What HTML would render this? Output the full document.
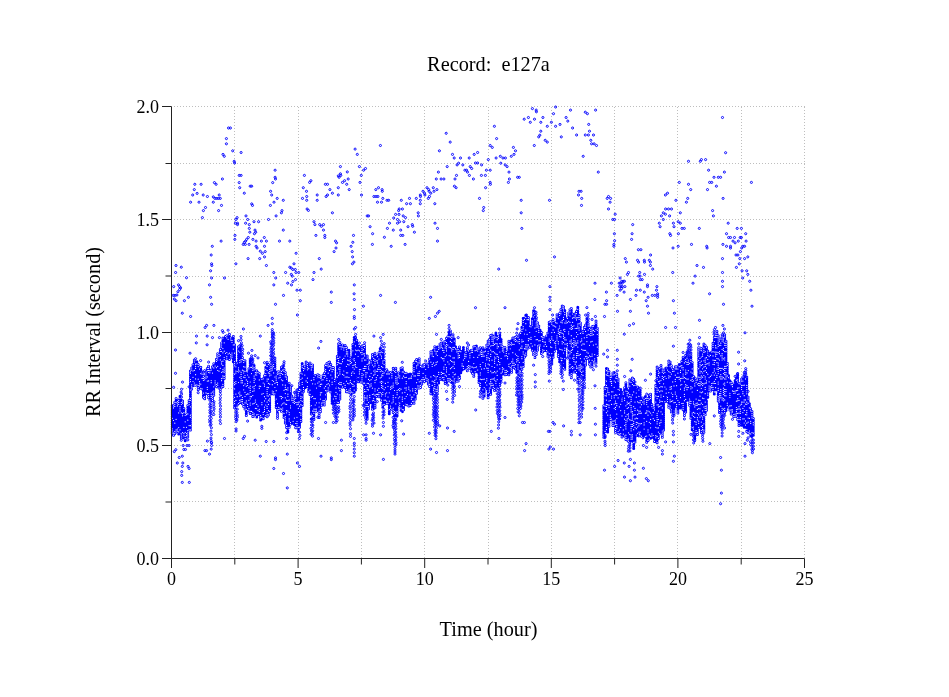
<!DOCTYPE html>
<html><head><meta charset="utf-8"><title>Record: e127a</title>
<style>html,body{margin:0;padding:0;background:#fff}body{width:949px;height:697px;overflow:hidden}</style>
</head><body>
<svg width="949" height="697" viewBox="0 0 949 697" style="display:block">
<rect width="949" height="697" fill="#fff"/>
<g stroke="#bebebe" stroke-width="1" stroke-dasharray="1 2" fill="none" shape-rendering="crispEdges"><path d="M234.8 106.5V558.5M298.1 106.5V558.5M361.4 106.5V558.5M424.7 106.5V558.5M488.5 106.5V558.5M551.3 106.5V558.5M614.6 106.5V558.5M677.9 106.5V558.5M741.2 106.5V558.5M804.5 106.5V558.5"/><path d="M171.5 501.5H804.5M171.5 445.5H804.5M171.5 388.5H804.5M171.5 332.5H804.5M171.5 276.5H804.5M171.5 219.5H804.5M171.5 163.5H804.5M171.5 106.5H804.5" stroke-dashoffset="1"/></g>
<path d="M172.2 405.7V433.1M173.5 405.8V435.2M174.8 402.2V433.8M176.1 398.4V432.1M177.4 401.7V431.2M178.7 400.3V433.9M180.0 396.2V429.8M181.3 400.3V438.2M182.6 401.1V432.7M183.9 408.5V438.0M185.2 415.5V440.7M186.5 414.7V435.7M187.8 405.5V437.0M189.1 400.4V429.8M190.4 371.1V430.0M191.7 368.0V389.1M193.0 364.7V387.8M194.3 359.9V385.1M195.6 364.2V385.2M196.9 361.7V384.8M198.2 364.5V389.7M199.5 369.1V385.9M200.8 367.3V388.3M202.1 372.1V389.0M203.4 376.3V397.4M204.7 377.7V398.8M206.0 371.9V393.0M207.3 368.5V393.7M208.6 366.2V397.7M209.9 370.7V400.2M211.2 370.1V397.5M212.5 366.8V400.4M213.8 363.7V397.3M215.1 364.0V385.0M216.4 359.3V386.6M217.7 353.7V385.2M219.0 354.4V388.1M220.3 349.4V391.5M221.6 342.9V387.0M222.9 338.1V386.5M224.2 338.6V378.6M225.5 336.5V353.3M226.8 335.7V358.9M228.1 337.2V356.2M229.4 334.3V359.6M230.7 337.9V356.9M232.0 340.4V357.2M233.3 336.5V361.8M234.6 344.8V407.9M235.9 366.8V402.6M237.2 363.1V405.1M238.5 346.8V403.5M239.8 345.8V402.6M241.1 359.7V401.8M242.4 357.6V403.9M243.7 360.4V406.7M245.0 360.8V409.2M246.3 373.6V415.7M247.6 375.0V410.8M248.9 368.8V410.8M250.2 358.9V413.5M251.5 365.2V411.4M252.8 366.1V416.6M254.1 365.6V416.1M255.4 372.7V416.8M256.7 370.8V417.1M258.0 372.5V414.5M259.3 373.6V411.4M260.6 380.0V420.0M261.9 379.5V417.4M263.2 378.8V418.8M264.5 375.7V411.5M265.8 367.2V415.6M267.1 362.2V416.9M268.4 364.5V415.0M269.7 369.5V411.6M271.0 366.6V396.0M272.3 365.8V393.1M273.6 364.5V394.0M274.9 358.1V393.9M276.2 376.0V407.6M277.5 372.1V416.3M278.8 371.7V411.6M280.1 373.2V408.9M281.4 367.2V411.4M282.7 366.0V410.1M284.0 369.3V417.7M285.3 372.6V423.1M286.6 377.1V427.6M287.9 385.8V432.0M289.2 383.2V429.4M290.5 386.9V424.8M291.8 396.0V425.4M293.1 398.2V421.4M294.4 399.2V424.5M295.7 392.0V427.7M297.0 390.0V429.9M298.3 389.5V431.6M299.6 383.1V427.2M300.9 373.2V423.6M302.2 363.5V405.5M303.5 368.5V389.5M304.8 366.7V387.8M306.1 362.0V385.2M307.4 363.5V386.6M308.7 368.7V391.9M310.0 362.9V394.4M311.3 365.7V416.1M312.6 364.9V415.4M313.9 377.6V419.7M315.2 375.6V411.3M316.5 379.7V411.2M317.8 374.7V412.5M319.1 375.5V417.6M320.4 384.4V411.7M321.7 380.0V407.3M323.0 375.5V404.9M324.3 373.4V405.0M325.6 365.4V399.1M326.9 363.6V393.0M328.2 362.7V390.1M329.5 362.0V385.1M330.8 364.6V392.0M332.1 367.5V403.2M333.4 367.5V401.1M334.7 379.4V404.7M336.0 388.2V398.8M337.3 356.2V404.5M338.6 343.8V402.6M339.9 342.4V399.2M341.2 346.9V384.8M342.5 344.9V387.0M343.8 347.9V383.7M345.1 345.5V387.6M346.4 347.6V391.8M347.7 351.8V391.8M349.0 350.2V392.2M350.3 357.2V393.0M351.6 362.7V396.3M352.9 344.5V394.9M354.2 337.6V392.3M355.5 337.4V389.9M356.8 340.2V375.9M358.1 346.0V381.8M359.4 346.6V376.0M360.7 350.6V382.1M362.0 346.2V382.0M363.3 345.4V383.3M364.6 345.4V400.0M365.9 355.9V406.4M367.2 356.0V419.1M368.5 366.8V408.9M369.8 370.1V397.5M371.1 360.7V404.8M372.4 354.6V411.3M373.7 358.4V408.9M375.0 353.2V409.9M376.3 360.8V396.6M377.6 356.6V394.4M378.9 352.7V396.9M380.2 348.5V392.7M381.5 351.9V402.3M382.8 350.5V409.3M384.1 360.3V404.4M385.4 370.8V400.3M386.7 369.7V403.4M388.0 371.8V403.3M389.3 373.9V413.9M390.6 372.5V408.3M391.9 373.6V409.4M393.2 368.3V412.4M394.5 371.6V415.8M395.8 368.2V414.5M397.1 375.8V415.7M398.4 372.8V398.0M399.7 375.9V405.4M401.0 368.2V412.3M402.3 367.7V413.9M403.6 372.0V409.9M404.9 373.4V398.6M406.2 373.2V404.8M407.5 377.5V404.8M408.8 374.5V406.0M410.1 374.0V405.6M411.4 376.1V403.5M412.7 374.1V401.5M414.0 363.3V403.3M415.3 361.2V399.1M416.6 359.6V393.2M417.9 362.8V388.0M419.2 358.7V388.2M420.5 366.4V387.5M421.8 367.1V384.0M423.1 365.0V379.7M424.4 364.6V381.5M425.7 367.4V377.9M427.0 363.9V380.8M428.3 365.1V384.1M429.6 359.1V388.5M430.9 351.7V393.7M432.2 351.8V393.9M433.5 350.3V390.3M434.8 346.7V388.7M436.1 351.8V391.8M437.4 347.1V391.2M438.7 347.2V385.0M440.0 343.9V379.7M441.3 343.0V374.5M442.6 348.2V379.8M443.9 341.9V379.8M445.2 341.6V383.6M446.5 338.3V382.4M447.8 336.7V380.9M449.1 332.5V380.9M450.4 330.9V381.4M451.7 336.2V384.5M453.0 334.8V381.1M454.3 339.0V383.2M455.6 346.8V374.1M456.9 349.8V381.3M458.2 349.5V381.1M459.5 346.9V378.4M460.8 351.7V374.8M462.1 351.2V370.2M463.4 347.5V368.6M464.7 354.1V370.9M466.0 352.5V369.3M467.3 347.7V370.9M468.6 350.9V367.8M469.9 353.6V368.4M471.2 350.2V371.3M472.5 350.2V373.4M473.8 346.8V376.3M475.1 346.5V371.7M476.4 345.9V366.9M477.7 349.0V372.2M479.0 348.9V382.5M480.3 347.7V387.6M481.6 350.2V394.3M482.9 347.8V398.3M484.2 349.8V396.0M485.5 351.2V389.1M486.8 345.1V385.1M488.1 341.0V397.8M489.4 339.7V392.3M490.7 335.5V394.4M492.0 335.0V387.5M493.3 336.9V387.4M494.6 336.0V390.7M495.9 332.9V383.4M497.2 337.6V388.1M498.5 336.2V388.8M499.8 333.1V385.6M501.1 339.6V379.6M502.4 346.7V374.1M503.7 347.9V371.1M505.0 347.5V374.9M506.3 351.4V374.6M507.6 352.4V371.3M508.9 341.2V374.9M510.2 344.6V367.7M511.5 340.8V372.3M512.8 338.0V365.4M514.1 338.0V367.5M515.4 337.3V368.9M516.7 336.6V374.4M518.0 337.6V369.2M519.3 339.4V371.0M520.6 333.4V371.2M521.9 327.2V369.2M523.2 318.3V366.7M524.5 319.3V357.1M525.8 315.3V355.2M527.1 317.5V349.0M528.4 317.6V344.9M529.7 326.2V347.3M531.0 326.8V343.6M532.3 318.8V350.3M533.6 310.7V356.9M534.9 315.5V357.5M536.2 322.9V354.5M537.5 322.8V350.1M538.8 326.1V345.1M540.1 330.2V344.9M541.4 332.5V353.5M542.7 337.2V354.0M544.0 337.8V350.5M545.3 342.2V350.7M546.6 335.9V350.6M547.9 333.1V356.3M549.2 322.2V353.8M550.5 321.7V357.4M551.8 322.1V364.2M553.1 319.4V357.3M554.4 326.1V351.4M555.7 322.7V348.0M557.0 314.8V348.5M558.3 318.6V356.5M559.6 313.4V363.8M560.9 309.6V358.0M562.2 306.0V358.6M563.5 306.8V367.8M564.8 310.4V369.3M566.1 321.0V346.3M567.4 318.4V345.7M568.7 312.9V357.0M570.0 309.7V376.9M571.3 308.4V377.8M572.6 314.0V368.6M573.9 317.4V372.0M575.2 313.8V370.6M576.5 311.5V372.5M577.8 307.2V382.9M579.1 315.3V378.3M580.4 322.9V373.4M581.7 338.8V374.6M583.0 331.3V375.5M584.3 327.3V379.9M585.6 325.1V365.1M586.9 318.5V358.5M588.2 323.8V357.5M589.5 328.5V364.3M590.8 329.3V367.2M592.1 326.7V366.7M593.4 326.2V364.0M594.7 327.3V363.1M596.0 321.1V363.1M597.3 328.2V357.6M603.8 405.7V437.3M605.1 387.3V431.4M606.4 368.6V429.5M607.7 369.0V432.1M609.0 371.6V426.2M610.3 377.4V419.4M611.6 377.1V419.1M612.9 372.9V425.4M614.2 372.6V425.2M615.5 373.8V430.6M616.8 374.2V428.9M618.1 379.0V433.6M619.4 390.1V434.3M620.7 389.6V433.7M622.0 399.1V437.0M623.3 392.1V434.1M624.6 387.7V436.1M625.9 382.7V439.5M627.2 391.6V440.0M628.5 388.7V441.3M629.8 379.8V442.8M631.1 382.5V439.3M632.4 378.1V441.2M633.7 379.3V448.7M635.0 385.3V442.0M636.3 393.0V435.1M637.6 387.1V437.5M638.9 390.1V432.2M640.2 388.1V432.3M641.5 400.5V438.3M642.8 397.9V437.9M644.1 399.7V437.5M645.4 396.4V436.4M646.7 398.2V442.4M648.0 398.4V440.5M649.3 395.0V439.1M650.6 394.2V440.4M651.9 404.5V436.0M653.2 408.2V437.7M654.5 407.8V441.4M655.8 385.3V437.8M657.1 367.1V442.8M658.4 371.2V438.5M659.7 368.6V433.8M661.0 365.6V434.9M662.3 370.1V439.4M663.6 373.3V430.0M664.9 372.3V401.8M666.2 368.0V395.3M667.5 370.1V401.7M668.8 361.1V409.4M670.1 362.0V408.2M671.4 365.7V414.0M672.7 369.3V409.2M674.0 371.2V415.4M675.3 366.8V404.7M676.6 366.8V406.7M677.9 369.0V413.2M679.2 364.6V404.6M680.5 366.1V408.2M681.8 361.5V403.6M683.1 357.2V409.7M684.4 362.9V415.4M685.7 355.3V412.1M687.0 358.2V402.3M688.3 358.0V395.8M689.6 361.2V405.4M690.9 353.1V418.2M692.2 362.6V431.9M693.5 376.6V429.1M694.8 383.8V440.5M696.1 380.2V432.8M697.4 379.9V434.5M698.7 347.7V427.6M700.0 347.9V425.7M701.3 348.6V432.7M702.6 354.1V429.7M703.9 344.0V432.3M705.2 345.4V416.8M706.5 347.2V410.2M707.8 351.1V399.4M709.1 356.6V390.3M710.4 353.3V391.1M711.7 352.0V387.8M713.0 343.3V389.5M714.3 337.3V394.0M715.6 335.2V391.9M716.9 331.2V392.1M718.2 335.8V400.9M719.5 339.0V412.5M720.8 339.0V408.4M722.1 334.8V410.5M723.4 335.7V411.4M724.7 334.8V412.6M726.0 341.2V410.6M727.3 363.3V405.3M728.6 375.5V407.1M729.9 380.7V410.2M731.2 382.6V414.2M732.5 384.6V412.0M733.8 387.2V416.7M735.1 380.5V416.2M736.4 378.1V416.0M737.7 373.5V419.7M739.0 383.6V425.7M740.3 384.0V419.8M741.6 379.0V425.2M742.9 376.9V425.3M744.2 372.6V429.3M745.5 378.9V429.3M746.8 377.0V431.6M748.1 397.0V432.8M749.4 403.7V433.1M750.7 408.7V438.1M752.0 411.5V436.7M753.3 418.5V437.4" stroke="#00f" stroke-width="3" stroke-linecap="round" stroke-dasharray="0 2.1" fill="none"/>
<path d="M172.2 418.3h0M172.2 428.8h0M172.2 430.9h0M172.2 433.0h0M173.5 405.8h0M173.5 407.9h0M173.5 420.5h0M173.5 433.1h0M173.5 435.2h0M174.8 402.2h0M174.8 404.3h0M174.8 406.4h0M174.8 423.2h0M174.8 431.6h0M174.8 433.7h0M176.1 398.4h0M176.1 402.6h0M176.1 419.4h0M176.1 429.9h0M176.1 432.0h0M177.4 401.7h0M177.4 403.8h0M177.4 405.9h0M177.4 429.0h0M177.4 431.1h0M178.7 400.3h0M178.7 402.4h0M178.7 404.5h0M178.7 412.9h0M178.7 427.6h0M178.7 431.8h0M180.0 398.3h0M180.0 406.7h0M180.0 408.8h0M180.0 410.9h0M180.0 429.8h0M181.3 402.4h0M181.3 404.5h0M181.3 412.9h0M181.3 433.9h0M181.3 436.0h0M181.3 438.1h0M182.6 401.1h0M182.6 403.2h0M182.6 413.7h0M182.6 415.8h0M182.6 432.6h0M183.9 408.5h0M183.9 412.7h0M183.9 427.4h0M183.9 433.7h0M183.9 435.8h0M185.2 415.5h0M185.2 421.8h0M185.2 432.3h0M185.2 436.5h0M185.2 438.6h0M186.5 414.7h0M186.5 427.3h0M186.5 433.6h0M186.5 435.7h0M187.8 405.5h0M187.8 413.9h0M187.8 420.2h0M187.8 430.7h0M187.8 432.8h0M187.8 434.9h0M187.8 437.0h0M189.1 400.4h0M189.1 402.5h0M189.1 404.6h0M189.1 425.6h0M189.1 429.8h0M190.4 371.1h0M190.4 373.2h0M190.4 379.5h0M190.4 381.6h0M190.4 390.0h0M190.4 398.4h0M190.4 400.5h0M190.4 406.8h0M190.4 415.2h0M190.4 417.3h0M190.4 425.7h0M190.4 429.9h0M191.7 368.0h0M191.7 370.1h0M191.7 384.8h0M191.7 386.9h0M191.7 389.0h0M193.0 364.7h0M193.0 371.0h0M193.0 377.3h0M193.0 381.5h0M193.0 387.8h0M194.3 359.9h0M194.3 362.0h0M194.3 370.4h0M194.3 383.0h0M194.3 385.1h0M195.6 364.2h0M195.6 366.3h0M195.6 368.4h0M195.6 374.7h0M195.6 378.9h0M195.6 385.2h0M196.9 363.8h0M196.9 384.8h0M198.2 364.5h0M198.2 366.6h0M198.2 379.2h0M198.2 385.5h0M198.2 387.6h0M198.2 389.7h0M199.5 369.1h0M199.5 381.7h0M199.5 383.8h0M199.5 385.9h0M200.8 367.3h0M200.8 373.6h0M200.8 384.1h0M200.8 388.3h0M202.1 372.1h0M202.1 374.2h0M202.1 378.4h0M202.1 388.9h0M203.4 376.3h0M203.4 378.4h0M203.4 380.5h0M203.4 393.1h0M203.4 397.3h0M204.7 377.7h0M204.7 379.8h0M204.7 396.6h0M204.7 398.7h0M206.0 371.9h0M206.0 374.0h0M206.0 376.1h0M206.0 378.2h0M206.0 392.9h0M207.3 368.5h0M207.3 370.6h0M207.3 376.9h0M207.3 381.1h0M207.3 387.4h0M207.3 389.5h0M207.3 393.7h0M208.6 366.2h0M208.6 368.3h0M208.6 370.4h0M208.6 372.5h0M208.6 380.9h0M208.6 393.5h0M208.6 395.6h0M208.6 397.7h0M209.9 370.7h0M209.9 372.8h0M209.9 400.1h0M211.2 370.1h0M211.2 380.6h0M211.2 382.7h0M211.2 393.2h0M211.2 395.3h0M211.2 397.4h0M212.5 366.8h0M212.5 373.1h0M212.5 392.0h0M212.5 396.2h0M212.5 398.3h0M212.5 400.4h0M213.8 363.7h0M213.8 367.9h0M213.8 386.8h0M213.8 391.0h0M213.8 393.1h0M213.8 395.2h0M215.1 366.1h0M215.1 380.8h0M215.1 382.9h0M215.1 385.0h0M216.4 359.3h0M216.4 361.4h0M216.4 367.7h0M216.4 384.5h0M216.4 386.6h0M217.7 353.7h0M217.7 355.8h0M217.7 357.9h0M217.7 360.0h0M217.7 366.3h0M217.7 370.5h0M217.7 383.1h0M217.7 385.2h0M219.0 354.4h0M219.0 356.5h0M219.0 371.2h0M219.0 388.0h0M220.3 349.4h0M220.3 351.5h0M220.3 355.7h0M220.3 359.9h0M220.3 368.3h0M220.3 389.3h0M220.3 391.4h0M221.6 342.9h0M221.6 345.0h0M221.6 347.1h0M221.6 351.3h0M221.6 361.8h0M221.6 363.9h0M221.6 372.3h0M221.6 378.6h0M221.6 380.7h0M221.6 387.0h0M222.9 338.1h0M222.9 348.6h0M222.9 352.8h0M222.9 361.2h0M222.9 365.4h0M222.9 369.6h0M222.9 371.7h0M222.9 375.9h0M222.9 378.0h0M222.9 384.3h0M222.9 386.4h0M224.2 342.8h0M224.2 351.2h0M224.2 357.5h0M224.2 359.6h0M224.2 368.0h0M224.2 370.1h0M224.2 372.2h0M224.2 376.4h0M224.2 378.5h0M225.5 336.5h0M225.5 353.3h0M226.8 335.7h0M226.8 337.8h0M226.8 352.5h0M226.8 356.7h0M226.8 358.8h0M228.1 339.3h0M228.1 354.0h0M229.4 334.3h0M229.4 353.2h0M229.4 359.5h0M230.7 337.9h0M230.7 340.0h0M230.7 354.7h0M230.7 356.8h0M232.0 340.4h0M232.0 342.5h0M232.0 353.0h0M232.0 355.1h0M232.0 357.2h0M233.3 336.5h0M233.3 344.9h0M233.3 349.1h0M234.6 344.8h0M234.6 353.2h0M234.6 361.6h0M234.6 363.7h0M234.6 365.8h0M234.6 374.2h0M234.6 382.6h0M234.6 384.7h0M234.6 388.9h0M234.6 397.3h0M234.6 401.5h0M234.6 403.6h0M234.6 407.8h0M235.9 366.8h0M235.9 371.0h0M235.9 373.1h0M235.9 381.5h0M235.9 383.6h0M235.9 394.1h0M235.9 400.4h0M237.2 363.1h0M237.2 371.5h0M237.2 396.7h0M237.2 405.1h0M238.5 346.8h0M238.5 351.0h0M238.5 367.8h0M238.5 369.9h0M238.5 372.0h0M238.5 382.5h0M238.5 393.0h0M238.5 403.5h0M239.8 345.8h0M239.8 352.1h0M239.8 360.5h0M239.8 362.6h0M239.8 371.0h0M239.8 377.3h0M239.8 392.0h0M239.8 394.1h0M239.8 396.2h0M239.8 400.4h0M239.8 402.5h0M241.1 359.7h0M241.1 361.8h0M241.1 372.3h0M241.1 374.4h0M241.1 376.5h0M241.1 378.6h0M241.1 380.7h0M241.1 382.8h0M241.1 395.4h0M241.1 399.6h0M241.1 401.7h0M242.4 357.6h0M242.4 359.7h0M242.4 370.2h0M242.4 380.7h0M242.4 382.8h0M242.4 397.5h0M242.4 399.6h0M242.4 401.7h0M242.4 403.8h0M243.7 360.4h0M243.7 362.5h0M243.7 366.7h0M243.7 370.9h0M243.7 373.0h0M243.7 377.2h0M243.7 385.6h0M243.7 389.8h0M243.7 404.5h0M243.7 406.6h0M245.0 360.8h0M245.0 367.1h0M245.0 371.3h0M245.0 375.5h0M245.0 377.6h0M245.0 383.9h0M245.0 392.3h0M245.0 396.5h0M245.0 402.8h0M245.0 407.0h0M245.0 409.1h0M246.3 379.9h0M246.3 386.2h0M246.3 394.6h0M246.3 400.9h0M246.3 403.0h0M246.3 409.3h0M246.3 415.6h0M247.6 375.0h0M247.6 381.3h0M247.6 383.4h0M247.6 385.5h0M247.6 393.9h0M247.6 404.4h0M247.6 406.5h0M247.6 410.7h0M248.9 368.8h0M248.9 377.2h0M248.9 387.7h0M248.9 394.0h0M248.9 400.3h0M248.9 408.7h0M248.9 410.8h0M250.2 358.9h0M250.2 367.3h0M250.2 382.0h0M250.2 386.2h0M250.2 388.3h0M250.2 390.4h0M250.2 392.5h0M250.2 396.7h0M250.2 398.8h0M250.2 403.0h0M250.2 405.1h0M250.2 411.4h0M250.2 413.5h0M251.5 367.3h0M251.5 373.6h0M251.5 396.7h0M251.5 411.4h0M252.8 366.1h0M252.8 368.2h0M252.8 370.3h0M252.8 387.1h0M252.8 391.3h0M252.8 395.5h0M252.8 403.9h0M252.8 412.3h0M252.8 414.4h0M252.8 416.5h0M254.1 367.7h0M254.1 369.8h0M254.1 376.1h0M254.1 378.2h0M254.1 380.3h0M254.1 382.4h0M254.1 386.6h0M254.1 388.7h0M254.1 390.8h0M254.1 403.4h0M254.1 413.9h0M254.1 416.0h0M255.4 372.7h0M255.4 374.8h0M255.4 379.0h0M255.4 385.3h0M255.4 400.0h0M255.4 402.1h0M255.4 408.4h0M255.4 416.8h0M256.7 370.8h0M256.7 372.9h0M256.7 375.0h0M256.7 404.4h0M256.7 408.6h0M256.7 414.9h0M258.0 372.5h0M258.0 406.1h0M258.0 410.3h0M258.0 414.5h0M259.3 373.6h0M259.3 379.9h0M259.3 386.2h0M259.3 388.3h0M259.3 409.3h0M259.3 411.4h0M260.6 386.3h0M260.6 415.7h0M260.6 417.8h0M261.9 379.5h0M261.9 394.2h0M261.9 402.6h0M261.9 404.7h0M261.9 417.3h0M263.2 378.8h0M263.2 383.0h0M263.2 393.5h0M263.2 412.4h0M263.2 414.5h0M263.2 418.7h0M264.5 375.7h0M264.5 384.1h0M264.5 386.2h0M264.5 396.7h0M264.5 400.9h0M264.5 407.2h0M264.5 409.3h0M264.5 411.4h0M265.8 369.3h0M265.8 373.5h0M265.8 375.6h0M265.8 398.7h0M265.8 405.0h0M265.8 415.5h0M267.1 362.2h0M267.1 366.4h0M267.1 370.6h0M267.1 379.0h0M267.1 381.1h0M267.1 387.4h0M267.1 389.5h0M267.1 391.6h0M267.1 393.7h0M267.1 395.8h0M267.1 402.1h0M267.1 406.3h0M267.1 408.4h0M267.1 412.6h0M267.1 414.7h0M267.1 416.8h0M268.4 364.5h0M268.4 372.9h0M268.4 379.2h0M268.4 383.4h0M268.4 387.6h0M268.4 396.0h0M268.4 400.2h0M268.4 404.4h0M268.4 410.7h0M268.4 414.9h0M269.7 369.5h0M269.7 371.6h0M269.7 373.7h0M269.7 375.8h0M269.7 384.2h0M269.7 394.7h0M269.7 398.9h0M269.7 401.0h0M269.7 411.5h0M271.0 366.6h0M271.0 368.7h0M271.0 370.8h0M271.0 375.0h0M271.0 396.0h0M272.3 365.8h0M272.3 367.9h0M272.3 370.0h0M272.3 380.5h0M272.3 384.7h0M272.3 391.0h0M272.3 393.1h0M273.6 364.5h0M273.6 366.6h0M273.6 372.9h0M273.6 381.3h0M273.6 391.8h0M273.6 393.9h0M274.9 358.1h0M274.9 360.2h0M274.9 362.3h0M274.9 368.6h0M274.9 377.0h0M274.9 383.3h0M274.9 387.5h0M274.9 393.8h0M276.2 376.0h0M276.2 378.1h0M276.2 380.2h0M276.2 382.3h0M276.2 390.7h0M276.2 399.1h0M276.2 407.5h0M277.5 372.1h0M277.5 374.2h0M277.5 382.6h0M277.5 384.7h0M277.5 403.6h0M277.5 409.9h0M277.5 414.1h0M277.5 416.2h0M278.8 371.7h0M278.8 373.8h0M278.8 378.0h0M278.8 407.4h0M278.8 409.5h0M278.8 411.6h0M280.1 373.2h0M280.1 375.3h0M280.1 377.4h0M280.1 396.3h0M280.1 408.9h0M281.4 367.2h0M281.4 371.4h0M281.4 373.5h0M281.4 379.8h0M281.4 396.6h0M281.4 398.7h0M281.4 405.0h0M281.4 409.2h0M281.4 411.3h0M282.7 366.0h0M282.7 370.2h0M282.7 374.4h0M282.7 380.7h0M282.7 384.9h0M282.7 397.5h0M282.7 403.8h0M282.7 408.0h0M282.7 410.1h0M284.0 369.3h0M284.0 371.4h0M284.0 390.3h0M284.0 402.9h0M284.0 413.4h0M284.0 417.6h0M285.3 372.6h0M285.3 374.7h0M285.3 376.8h0M285.3 385.2h0M285.3 387.3h0M285.3 389.4h0M285.3 393.6h0M285.3 397.8h0M285.3 404.1h0M285.3 416.7h0M285.3 418.8h0M285.3 420.9h0M285.3 423.0h0M286.6 377.1h0M286.6 379.2h0M286.6 389.7h0M286.6 400.2h0M286.6 404.4h0M286.6 410.7h0M286.6 412.8h0M286.6 425.4h0M286.6 427.5h0M287.9 387.9h0M287.9 390.0h0M287.9 394.2h0M287.9 396.3h0M287.9 400.5h0M287.9 411.0h0M287.9 427.8h0M289.2 383.2h0M289.2 400.0h0M289.2 412.6h0M289.2 414.7h0M289.2 418.9h0M289.2 421.0h0M289.2 427.3h0M289.2 429.4h0M290.5 386.9h0M290.5 389.0h0M290.5 391.1h0M290.5 405.8h0M290.5 407.9h0M290.5 422.6h0M290.5 424.7h0M291.8 396.0h0M291.8 398.1h0M291.8 400.2h0M291.8 425.4h0M293.1 398.2h0M293.1 400.3h0M293.1 402.4h0M293.1 421.3h0M294.4 399.2h0M294.4 401.3h0M294.4 403.4h0M294.4 418.1h0M295.7 392.0h0M295.7 394.1h0M295.7 396.2h0M295.7 398.3h0M295.7 402.5h0M295.7 423.5h0M295.7 427.7h0M297.0 390.0h0M297.0 402.6h0M297.0 404.7h0M297.0 417.3h0M297.0 421.5h0M297.0 423.6h0M297.0 425.7h0M297.0 427.8h0M297.0 429.9h0M298.3 391.6h0M298.3 393.7h0M298.3 395.8h0M298.3 402.1h0M298.3 404.2h0M298.3 408.4h0M298.3 427.3h0M298.3 431.5h0M299.6 383.1h0M299.6 385.2h0M299.6 389.4h0M299.6 391.5h0M299.6 402.0h0M299.6 406.2h0M299.6 412.5h0M299.6 427.2h0M300.9 373.2h0M300.9 379.5h0M300.9 390.0h0M300.9 396.3h0M300.9 398.4h0M300.9 400.5h0M300.9 404.7h0M300.9 408.9h0M300.9 413.1h0M300.9 415.2h0M300.9 419.4h0M300.9 421.5h0M302.2 365.6h0M302.2 367.7h0M302.2 374.0h0M302.2 378.2h0M302.2 382.4h0M302.2 384.5h0M302.2 392.9h0M302.2 397.1h0M302.2 401.3h0M302.2 405.5h0M303.5 368.5h0M303.5 370.6h0M303.5 387.4h0M303.5 389.5h0M304.8 366.7h0M304.8 368.8h0M304.8 375.1h0M306.1 362.0h0M306.1 364.1h0M306.1 380.9h0M307.4 363.5h0M307.4 365.6h0M307.4 367.7h0M307.4 369.8h0M307.4 378.2h0M307.4 382.4h0M307.4 386.6h0M308.7 368.7h0M308.7 391.8h0M310.0 362.9h0M310.0 365.0h0M310.0 390.2h0M310.0 394.4h0M311.3 365.7h0M311.3 367.8h0M311.3 369.9h0M311.3 380.4h0M311.3 397.2h0M311.3 405.6h0M311.3 414.0h0M311.3 416.1h0M312.6 364.9h0M312.6 367.0h0M312.6 383.8h0M312.6 396.4h0M312.6 411.1h0M312.6 415.3h0M313.9 377.6h0M313.9 379.7h0M313.9 398.6h0M313.9 409.1h0M313.9 411.2h0M313.9 413.3h0M313.9 417.5h0M313.9 419.6h0M315.2 375.6h0M315.2 384.0h0M315.2 398.7h0M315.2 405.0h0M315.2 409.2h0M315.2 411.3h0M316.5 388.1h0M316.5 402.8h0M316.5 409.1h0M316.5 411.2h0M317.8 374.7h0M317.8 376.8h0M317.8 383.1h0M317.8 412.5h0M319.1 375.5h0M319.1 377.6h0M319.1 381.8h0M319.1 386.0h0M319.1 402.8h0M319.1 407.0h0M319.1 411.2h0M319.1 413.3h0M319.1 415.4h0M319.1 417.5h0M320.4 384.4h0M320.4 386.5h0M320.4 392.8h0M320.4 394.9h0M320.4 399.1h0M320.4 409.6h0M320.4 411.7h0M321.7 380.0h0M321.7 384.2h0M321.7 392.6h0M321.7 403.1h0M321.7 405.2h0M321.7 407.3h0M323.0 375.5h0M323.0 379.7h0M323.0 400.7h0M323.0 402.8h0M324.3 373.4h0M324.3 375.5h0M324.3 377.6h0M324.3 388.1h0M324.3 400.7h0M324.3 402.8h0M324.3 404.9h0M325.6 365.4h0M325.6 369.6h0M325.6 371.7h0M325.6 375.9h0M325.6 386.4h0M325.6 390.6h0M325.6 394.8h0M325.6 399.0h0M326.9 363.6h0M326.9 365.7h0M326.9 378.3h0M326.9 380.4h0M326.9 384.6h0M326.9 390.9h0M326.9 393.0h0M328.2 362.7h0M328.2 364.8h0M328.2 366.9h0M328.2 373.2h0M328.2 383.7h0M328.2 387.9h0M328.2 390.0h0M329.5 362.0h0M329.5 366.2h0M329.5 370.4h0M329.5 380.9h0M329.5 385.1h0M330.8 364.6h0M330.8 366.7h0M330.8 368.8h0M330.8 375.1h0M330.8 391.9h0M332.1 367.5h0M332.1 369.6h0M332.1 371.7h0M332.1 378.0h0M332.1 382.2h0M332.1 384.3h0M333.4 367.5h0M333.4 369.6h0M333.4 399.0h0M334.7 379.4h0M334.7 381.5h0M334.7 396.2h0M334.7 402.5h0M334.7 404.6h0M336.0 388.2h0M336.0 392.4h0M336.0 396.6h0M336.0 398.7h0M337.3 356.2h0M337.3 358.3h0M337.3 362.5h0M337.3 364.6h0M337.3 373.0h0M337.3 377.2h0M337.3 394.0h0M337.3 402.4h0M337.3 404.5h0M338.6 343.8h0M338.6 358.5h0M338.6 360.6h0M338.6 362.7h0M338.6 369.0h0M338.6 375.3h0M338.6 383.7h0M338.6 387.9h0M338.6 402.6h0M339.9 342.4h0M339.9 344.5h0M339.9 346.6h0M339.9 357.1h0M339.9 363.4h0M339.9 367.6h0M339.9 369.7h0M339.9 371.8h0M339.9 373.9h0M339.9 382.3h0M339.9 384.4h0M339.9 388.6h0M339.9 390.7h0M339.9 394.9h0M339.9 397.0h0M339.9 399.1h0M341.2 346.9h0M341.2 349.0h0M341.2 363.7h0M341.2 382.6h0M341.2 384.7h0M342.5 344.9h0M342.5 347.0h0M342.5 359.6h0M342.5 361.7h0M342.5 374.3h0M342.5 386.9h0M343.8 347.9h0M343.8 350.0h0M343.8 358.4h0M343.8 371.0h0M343.8 375.2h0M343.8 383.6h0M345.1 345.5h0M345.1 347.6h0M345.1 356.0h0M345.1 377.0h0M345.1 385.4h0M345.1 387.5h0M346.4 347.6h0M346.4 349.7h0M346.4 351.8h0M346.4 353.9h0M346.4 366.5h0M346.4 372.8h0M346.4 377.0h0M346.4 381.2h0M346.4 389.6h0M346.4 391.7h0M347.7 351.8h0M347.7 353.9h0M347.7 356.0h0M347.7 360.2h0M347.7 364.4h0M347.7 372.8h0M347.7 377.0h0M347.7 383.3h0M347.7 391.7h0M349.0 360.7h0M349.0 364.9h0M349.0 377.5h0M349.0 383.8h0M349.0 390.1h0M349.0 392.2h0M350.3 357.2h0M350.3 359.3h0M350.3 361.4h0M350.3 363.5h0M350.3 380.3h0M350.3 382.4h0M350.3 388.7h0M350.3 390.8h0M350.3 392.9h0M351.6 362.7h0M351.6 373.2h0M351.6 375.3h0M351.6 383.7h0M351.6 392.1h0M351.6 396.3h0M352.9 344.5h0M352.9 350.8h0M352.9 359.2h0M352.9 365.5h0M352.9 367.6h0M352.9 371.8h0M352.9 384.4h0M352.9 386.5h0M352.9 392.8h0M352.9 394.9h0M354.2 341.8h0M354.2 358.6h0M354.2 360.7h0M354.2 364.9h0M354.2 369.1h0M354.2 373.3h0M354.2 381.7h0M354.2 385.9h0M354.2 390.1h0M355.5 337.4h0M355.5 345.8h0M355.5 350.0h0M355.5 354.2h0M355.5 362.6h0M355.5 364.7h0M355.5 366.8h0M356.8 340.2h0M356.8 350.7h0M356.8 367.5h0M358.1 350.2h0M358.1 356.5h0M358.1 377.5h0M358.1 381.7h0M359.4 346.6h0M359.4 350.8h0M359.4 369.7h0M359.4 371.8h0M359.4 373.9h0M360.7 352.7h0M360.7 369.5h0M360.7 382.1h0M362.0 346.2h0M362.0 348.3h0M362.0 350.4h0M362.0 352.5h0M362.0 354.6h0M362.0 358.8h0M362.0 360.9h0M362.0 373.5h0M362.0 375.6h0M362.0 377.7h0M362.0 379.8h0M362.0 381.9h0M363.3 345.4h0M363.3 349.6h0M363.3 353.8h0M363.3 358.0h0M363.3 368.5h0M363.3 370.6h0M363.3 374.8h0M363.3 383.2h0M364.6 345.4h0M364.6 347.5h0M364.6 353.8h0M364.6 355.9h0M364.6 360.1h0M364.6 366.4h0M364.6 368.5h0M364.6 370.6h0M364.6 383.2h0M364.6 389.5h0M364.6 391.6h0M364.6 395.8h0M364.6 397.9h0M364.6 400.0h0M365.9 360.1h0M365.9 366.4h0M365.9 368.5h0M365.9 372.7h0M365.9 374.8h0M365.9 376.9h0M365.9 385.3h0M365.9 391.6h0M365.9 397.9h0M365.9 404.2h0M365.9 406.3h0M367.2 356.0h0M367.2 358.1h0M367.2 364.4h0M367.2 372.8h0M367.2 383.3h0M367.2 387.5h0M367.2 389.6h0M367.2 395.9h0M367.2 398.0h0M367.2 400.1h0M367.2 404.3h0M367.2 406.4h0M367.2 419.0h0M368.5 366.8h0M368.5 368.9h0M368.5 379.4h0M368.5 383.6h0M368.5 389.9h0M368.5 402.5h0M368.5 406.7h0M368.5 408.8h0M369.8 370.1h0M369.8 376.4h0M369.8 380.6h0M369.8 384.8h0M369.8 386.9h0M369.8 395.3h0M369.8 397.4h0M371.1 360.7h0M371.1 362.8h0M371.1 373.3h0M371.1 379.6h0M371.1 383.8h0M371.1 385.9h0M371.1 404.8h0M372.4 354.6h0M372.4 356.7h0M372.4 365.1h0M372.4 377.7h0M372.4 388.2h0M372.4 394.5h0M372.4 400.8h0M372.4 409.2h0M372.4 411.3h0M373.7 358.4h0M373.7 360.5h0M373.7 366.8h0M373.7 371.0h0M373.7 375.2h0M373.7 394.1h0M373.7 398.3h0M373.7 400.4h0M375.0 353.2h0M375.0 355.3h0M375.0 359.5h0M375.0 361.6h0M375.0 363.7h0M375.0 365.8h0M375.0 370.0h0M375.0 372.1h0M375.0 374.2h0M375.0 380.5h0M375.0 382.6h0M375.0 388.9h0M375.0 391.0h0M375.0 395.2h0M375.0 401.5h0M375.0 403.6h0M375.0 405.7h0M375.0 407.8h0M375.0 409.9h0M376.3 360.8h0M376.3 371.3h0M376.3 377.6h0M376.3 379.7h0M376.3 394.4h0M376.3 396.5h0M377.6 356.6h0M377.6 360.8h0M377.6 362.9h0M377.6 369.2h0M377.6 371.3h0M377.6 375.5h0M377.6 390.2h0M377.6 394.4h0M378.9 352.7h0M378.9 359.0h0M378.9 365.3h0M378.9 367.4h0M378.9 369.5h0M378.9 388.4h0M378.9 392.6h0M378.9 394.7h0M378.9 396.8h0M380.2 350.6h0M380.2 352.7h0M380.2 354.8h0M380.2 369.5h0M380.2 371.6h0M380.2 377.9h0M380.2 382.1h0M380.2 392.6h0M381.5 351.9h0M381.5 356.1h0M381.5 358.2h0M381.5 366.6h0M381.5 370.8h0M381.5 375.0h0M381.5 377.1h0M381.5 381.3h0M381.5 383.4h0M381.5 385.5h0M381.5 387.6h0M381.5 393.9h0M381.5 396.0h0M381.5 400.2h0M381.5 402.3h0M382.8 350.5h0M382.8 352.6h0M382.8 361.0h0M382.8 363.1h0M382.8 367.3h0M382.8 371.5h0M382.8 373.6h0M382.8 375.7h0M382.8 382.0h0M382.8 386.2h0M382.8 388.3h0M382.8 392.5h0M382.8 394.6h0M382.8 405.1h0M382.8 409.3h0M384.1 360.3h0M384.1 364.5h0M384.1 372.9h0M384.1 389.7h0M384.1 400.2h0M384.1 404.4h0M385.4 370.8h0M385.4 383.4h0M385.4 387.6h0M385.4 393.9h0M385.4 396.0h0M385.4 400.2h0M386.7 369.7h0M386.7 373.9h0M386.7 392.8h0M386.7 401.2h0M386.7 403.3h0M388.0 371.8h0M388.0 373.9h0M388.0 382.3h0M388.0 386.5h0M388.0 397.0h0M388.0 403.3h0M389.3 373.9h0M389.3 378.1h0M389.3 392.8h0M389.3 401.2h0M389.3 409.6h0M390.6 372.5h0M390.6 387.2h0M390.6 389.3h0M390.6 406.1h0M390.6 408.2h0M391.9 373.6h0M391.9 375.7h0M391.9 377.8h0M391.9 386.2h0M391.9 388.3h0M391.9 403.0h0M391.9 409.3h0M393.2 368.3h0M393.2 370.4h0M393.2 383.0h0M393.2 385.1h0M393.2 387.2h0M393.2 395.6h0M393.2 397.7h0M393.2 399.8h0M393.2 401.9h0M393.2 408.2h0M393.2 410.3h0M393.2 412.4h0M394.5 371.6h0M394.5 390.5h0M394.5 411.5h0M394.5 413.6h0M395.8 368.2h0M395.8 370.3h0M395.8 372.4h0M395.8 376.6h0M395.8 378.7h0M395.8 380.8h0M395.8 382.9h0M395.8 397.6h0M395.8 403.9h0M395.8 412.3h0M397.1 377.9h0M397.1 380.0h0M397.1 382.1h0M397.1 384.2h0M397.1 390.5h0M397.1 392.6h0M397.1 394.7h0M397.1 411.5h0M397.1 413.6h0M398.4 372.8h0M398.4 374.9h0M398.4 377.0h0M398.4 383.3h0M398.4 389.6h0M398.4 398.0h0M399.7 375.9h0M399.7 378.0h0M399.7 388.5h0M399.7 390.6h0M399.7 396.9h0M399.7 403.2h0M399.7 405.3h0M401.0 368.2h0M401.0 389.2h0M401.0 408.1h0M401.0 412.3h0M402.3 367.7h0M402.3 371.9h0M402.3 378.2h0M402.3 392.9h0M402.3 397.1h0M402.3 399.2h0M402.3 401.3h0M402.3 409.7h0M402.3 413.9h0M403.6 372.0h0M403.6 376.2h0M403.6 405.6h0M403.6 409.8h0M404.9 373.4h0M404.9 377.6h0M404.9 388.1h0M404.9 392.3h0M404.9 398.6h0M406.2 373.2h0M406.2 377.4h0M406.2 381.6h0M406.2 383.7h0M406.2 387.9h0M406.2 390.0h0M406.2 396.3h0M406.2 404.7h0M407.5 394.3h0M407.5 404.8h0M408.8 378.7h0M408.8 387.1h0M408.8 389.2h0M408.8 406.0h0M410.1 378.2h0M410.1 390.8h0M410.1 395.0h0M410.1 405.5h0M411.4 376.1h0M411.4 378.2h0M411.4 397.1h0M411.4 399.2h0M411.4 403.4h0M412.7 374.1h0M412.7 388.8h0M412.7 390.9h0M412.7 397.2h0M412.7 401.4h0M414.0 363.3h0M414.0 367.5h0M414.0 369.6h0M414.0 371.7h0M414.0 375.9h0M414.0 394.8h0M414.0 401.1h0M414.0 403.2h0M415.3 361.2h0M415.3 375.9h0M415.3 388.5h0M415.3 390.6h0M415.3 392.7h0M415.3 399.0h0M416.6 359.6h0M416.6 361.7h0M416.6 365.9h0M416.6 368.0h0M416.6 382.7h0M416.6 389.0h0M416.6 393.2h0M417.9 362.8h0M417.9 364.9h0M417.9 373.3h0M417.9 375.4h0M417.9 379.6h0M417.9 385.9h0M417.9 388.0h0M419.2 358.7h0M419.2 360.8h0M419.2 362.9h0M419.2 371.3h0M419.2 373.4h0M419.2 375.5h0M419.2 381.8h0M419.2 386.0h0M419.2 388.1h0M420.5 366.4h0M420.5 381.1h0M420.5 385.3h0M420.5 387.4h0M421.8 367.1h0M421.8 379.7h0M421.8 381.8h0M421.8 383.9h0M423.1 365.0h0M423.1 367.1h0M423.1 373.4h0M423.1 377.6h0M423.1 379.7h0M424.4 364.6h0M424.4 366.7h0M424.4 379.3h0M424.4 381.4h0M425.7 369.5h0M425.7 375.8h0M425.7 377.9h0M427.0 363.9h0M427.0 378.6h0M427.0 380.7h0M428.3 365.1h0M428.3 367.2h0M428.3 379.8h0M428.3 381.9h0M428.3 384.0h0M429.6 359.1h0M429.6 384.3h0M429.6 386.4h0M429.6 388.5h0M430.9 351.7h0M430.9 353.8h0M430.9 362.2h0M430.9 376.9h0M430.9 393.7h0M432.2 351.8h0M432.2 353.9h0M432.2 356.0h0M432.2 364.4h0M432.2 366.5h0M432.2 381.2h0M432.2 385.4h0M433.5 356.6h0M433.5 362.9h0M433.5 375.5h0M433.5 381.8h0M433.5 388.1h0M433.5 390.2h0M434.8 346.7h0M434.8 348.8h0M434.8 350.9h0M434.8 365.6h0M434.8 376.1h0M434.8 380.3h0M434.8 382.4h0M434.8 384.5h0M434.8 386.6h0M434.8 388.7h0M436.1 351.8h0M436.1 353.9h0M436.1 362.3h0M436.1 364.4h0M436.1 377.0h0M436.1 379.1h0M436.1 389.6h0M436.1 391.7h0M437.4 351.3h0M437.4 355.5h0M437.4 361.8h0M437.4 376.5h0M437.4 382.8h0M437.4 387.0h0M437.4 389.1h0M437.4 391.2h0M438.7 347.2h0M438.7 349.3h0M438.7 372.4h0M438.7 374.5h0M438.7 385.0h0M440.0 343.9h0M440.0 346.0h0M440.0 348.1h0M440.0 377.5h0M440.0 379.6h0M441.3 343.0h0M441.3 345.1h0M441.3 347.2h0M441.3 357.7h0M441.3 372.4h0M441.3 374.5h0M442.6 348.2h0M442.6 350.3h0M442.6 358.7h0M442.6 373.4h0M442.6 377.6h0M443.9 341.9h0M443.9 344.0h0M443.9 350.3h0M443.9 352.4h0M443.9 358.7h0M443.9 360.8h0M443.9 367.1h0M443.9 369.2h0M443.9 373.4h0M443.9 377.6h0M443.9 379.7h0M445.2 341.6h0M445.2 345.8h0M445.2 347.9h0M445.2 356.3h0M445.2 364.7h0M445.2 375.2h0M445.2 381.5h0M445.2 383.6h0M446.5 338.3h0M446.5 342.5h0M446.5 344.6h0M446.5 346.7h0M446.5 348.8h0M446.5 350.9h0M446.5 355.1h0M446.5 367.7h0M446.5 369.8h0M446.5 371.9h0M446.5 376.1h0M447.8 336.7h0M447.8 345.1h0M447.8 361.9h0M447.8 378.7h0M447.8 380.8h0M449.1 336.7h0M449.1 347.2h0M449.1 355.6h0M449.1 364.0h0M449.1 374.5h0M449.1 378.7h0M449.1 380.8h0M450.4 330.9h0M450.4 333.0h0M450.4 337.2h0M450.4 341.4h0M450.4 347.7h0M450.4 356.1h0M450.4 360.3h0M450.4 368.7h0M450.4 379.2h0M450.4 381.3h0M451.7 336.2h0M451.7 338.3h0M451.7 342.5h0M451.7 348.8h0M451.7 350.9h0M451.7 361.4h0M451.7 367.7h0M451.7 380.3h0M451.7 384.5h0M453.0 334.8h0M453.0 336.9h0M453.0 347.4h0M453.0 349.5h0M453.0 357.9h0M453.0 362.1h0M453.0 366.3h0M453.0 372.6h0M453.0 376.8h0M453.0 381.0h0M454.3 341.1h0M454.3 347.4h0M454.3 357.9h0M454.3 362.1h0M454.3 364.2h0M454.3 368.4h0M454.3 374.7h0M454.3 378.9h0M454.3 381.0h0M454.3 383.1h0M455.6 348.9h0M455.6 374.1h0M456.9 349.8h0M456.9 351.9h0M456.9 381.3h0M458.2 349.5h0M458.2 351.6h0M458.2 353.7h0M458.2 355.8h0M458.2 357.9h0M458.2 376.8h0M458.2 378.9h0M458.2 381.0h0M459.5 346.9h0M459.5 351.1h0M459.5 355.3h0M459.5 357.4h0M459.5 378.4h0M460.8 351.7h0M460.8 374.8h0M462.1 363.8h0M462.1 365.9h0M463.4 360.1h0M463.4 366.4h0M463.4 368.5h0M464.7 354.1h0M464.7 356.2h0M464.7 358.3h0M464.7 370.9h0M466.0 352.5h0M466.0 354.6h0M466.0 356.7h0M466.0 369.3h0M467.3 347.7h0M467.3 349.8h0M467.3 366.6h0M467.3 368.7h0M467.3 370.8h0M468.6 350.9h0M468.6 361.4h0M468.6 365.6h0M468.6 367.7h0M469.9 353.6h0M469.9 355.7h0M469.9 357.8h0M469.9 366.2h0M469.9 368.3h0M471.2 350.2h0M471.2 352.3h0M471.2 367.0h0M471.2 371.2h0M472.5 350.2h0M472.5 352.3h0M472.5 367.0h0M472.5 373.3h0M473.8 346.8h0M473.8 357.3h0M473.8 363.6h0M473.8 367.8h0M473.8 374.1h0M473.8 376.2h0M475.1 346.5h0M475.1 350.7h0M475.1 367.5h0M475.1 371.7h0M476.4 348.0h0M476.4 350.1h0M476.4 366.9h0M477.7 349.0h0M477.7 351.1h0M477.7 357.4h0M477.7 370.0h0M479.0 348.9h0M479.0 355.2h0M479.0 382.5h0M480.3 347.7h0M480.3 351.9h0M480.3 354.0h0M480.3 364.5h0M480.3 366.6h0M480.3 372.9h0M480.3 375.0h0M480.3 379.2h0M480.3 383.4h0M480.3 385.5h0M480.3 387.6h0M481.6 350.2h0M481.6 352.3h0M481.6 354.4h0M481.6 356.5h0M481.6 369.1h0M481.6 379.6h0M481.6 392.2h0M482.9 347.8h0M482.9 352.0h0M482.9 354.1h0M482.9 356.2h0M482.9 362.5h0M482.9 379.3h0M482.9 389.8h0M482.9 394.0h0M482.9 396.1h0M482.9 398.2h0M484.2 351.9h0M484.2 356.1h0M484.2 368.7h0M484.2 379.2h0M484.2 387.6h0M484.2 393.9h0M485.5 351.2h0M485.5 363.8h0M485.5 365.9h0M485.5 382.7h0M485.5 389.0h0M486.8 345.1h0M486.8 347.2h0M486.8 355.6h0M486.8 357.7h0M486.8 359.8h0M486.8 368.2h0M486.8 378.7h0M486.8 380.8h0M486.8 385.0h0M488.1 341.0h0M488.1 343.1h0M488.1 345.2h0M488.1 351.5h0M488.1 353.6h0M488.1 357.8h0M488.1 364.1h0M488.1 368.3h0M488.1 370.4h0M488.1 372.5h0M488.1 393.5h0M488.1 397.7h0M489.4 339.7h0M489.4 341.8h0M489.4 343.9h0M489.4 348.1h0M489.4 358.6h0M489.4 360.7h0M489.4 364.9h0M489.4 383.8h0M489.4 388.0h0M489.4 390.1h0M489.4 392.2h0M490.7 335.5h0M490.7 346.0h0M490.7 350.2h0M490.7 354.4h0M490.7 356.5h0M490.7 371.2h0M490.7 379.6h0M490.7 381.7h0M490.7 383.8h0M490.7 385.9h0M490.7 388.0h0M490.7 394.3h0M492.0 335.0h0M492.0 337.1h0M492.0 339.2h0M492.0 341.3h0M492.0 345.5h0M492.0 351.8h0M492.0 360.2h0M492.0 366.5h0M492.0 372.8h0M492.0 379.1h0M492.0 383.3h0M492.0 385.4h0M493.3 336.9h0M493.3 339.0h0M493.3 341.1h0M493.3 343.2h0M493.3 345.3h0M493.3 351.6h0M493.3 372.6h0M493.3 378.9h0M493.3 385.2h0M493.3 387.3h0M494.6 336.0h0M494.6 338.1h0M494.6 344.4h0M494.6 352.8h0M494.6 357.0h0M494.6 359.1h0M494.6 361.2h0M494.6 363.3h0M494.6 367.5h0M494.6 371.7h0M494.6 378.0h0M494.6 380.1h0M494.6 388.5h0M494.6 390.6h0M495.9 337.1h0M495.9 343.4h0M495.9 353.9h0M495.9 358.1h0M495.9 372.8h0M495.9 381.2h0M495.9 383.3h0M497.2 337.6h0M497.2 339.7h0M497.2 343.9h0M497.2 346.0h0M497.2 348.1h0M497.2 354.4h0M497.2 356.5h0M497.2 364.9h0M497.2 371.2h0M497.2 375.4h0M497.2 379.6h0M497.2 388.0h0M498.5 336.2h0M498.5 338.3h0M498.5 346.7h0M498.5 357.2h0M498.5 359.3h0M498.5 361.4h0M498.5 388.7h0M499.8 333.1h0M499.8 343.6h0M499.8 352.0h0M499.8 362.5h0M499.8 364.6h0M499.8 368.8h0M499.8 383.5h0M499.8 385.6h0M501.1 343.8h0M501.1 345.9h0M501.1 358.5h0M501.1 373.2h0M501.1 379.5h0M502.4 346.7h0M502.4 348.8h0M502.4 350.9h0M502.4 367.7h0M502.4 369.8h0M502.4 371.9h0M503.7 347.9h0M503.7 350.0h0M503.7 352.1h0M503.7 368.9h0M505.0 347.5h0M505.0 355.9h0M505.0 370.6h0M505.0 372.7h0M505.0 374.8h0M506.3 351.4h0M506.3 353.5h0M506.3 355.6h0M506.3 370.3h0M506.3 372.4h0M506.3 374.5h0M507.6 356.6h0M507.6 358.7h0M507.6 371.3h0M508.9 341.2h0M508.9 343.3h0M508.9 345.4h0M508.9 353.8h0M508.9 364.3h0M508.9 366.4h0M508.9 374.8h0M510.2 344.6h0M510.2 348.8h0M510.2 363.5h0M510.2 367.7h0M511.5 342.9h0M511.5 345.0h0M511.5 361.8h0M511.5 366.0h0M511.5 368.1h0M511.5 370.2h0M511.5 372.3h0M512.8 338.0h0M512.8 344.3h0M512.8 352.7h0M512.8 359.0h0M512.8 361.1h0M512.8 363.2h0M512.8 365.3h0M514.1 338.0h0M514.1 340.1h0M514.1 344.3h0M514.1 363.2h0M514.1 365.3h0M514.1 367.4h0M515.4 337.3h0M515.4 339.4h0M515.4 341.5h0M515.4 354.1h0M515.4 364.6h0M515.4 368.8h0M516.7 336.6h0M516.7 340.8h0M516.7 355.5h0M516.7 359.7h0M516.7 361.8h0M516.7 374.4h0M518.0 337.6h0M518.0 341.8h0M518.0 356.5h0M518.0 358.6h0M518.0 360.7h0M518.0 364.9h0M518.0 367.0h0M518.0 369.1h0M519.3 339.4h0M519.3 341.5h0M519.3 343.6h0M519.3 349.9h0M519.3 362.5h0M519.3 370.9h0M520.6 333.4h0M520.6 348.1h0M520.6 367.0h0M520.6 371.2h0M521.9 329.3h0M521.9 331.4h0M521.9 339.8h0M521.9 341.9h0M521.9 346.1h0M521.9 348.2h0M521.9 356.6h0M521.9 358.7h0M521.9 367.1h0M521.9 369.2h0M523.2 320.4h0M523.2 322.5h0M523.2 326.7h0M523.2 328.8h0M523.2 341.4h0M523.2 351.9h0M523.2 354.0h0M523.2 362.4h0M523.2 366.6h0M524.5 319.3h0M524.5 334.0h0M524.5 348.7h0M524.5 355.0h0M524.5 357.1h0M525.8 317.4h0M525.8 323.7h0M525.8 330.0h0M525.8 344.7h0M525.8 346.8h0M525.8 348.9h0M525.8 353.1h0M525.8 355.2h0M527.1 319.6h0M527.1 334.3h0M527.1 344.8h0M527.1 346.9h0M527.1 349.0h0M528.4 317.6h0M528.4 319.7h0M528.4 338.6h0M528.4 340.7h0M528.4 344.9h0M529.7 326.2h0M529.7 332.5h0M529.7 338.8h0M529.7 347.2h0M531.0 326.8h0M531.0 337.3h0M531.0 339.4h0M531.0 343.6h0M532.3 320.9h0M532.3 323.0h0M532.3 325.1h0M532.3 346.1h0M532.3 350.3h0M533.6 312.8h0M533.6 317.0h0M533.6 352.7h0M533.6 354.8h0M533.6 356.9h0M534.9 315.5h0M534.9 319.7h0M534.9 328.1h0M534.9 336.5h0M534.9 344.9h0M534.9 351.2h0M534.9 353.3h0M534.9 355.4h0M534.9 357.5h0M536.2 322.9h0M536.2 325.0h0M536.2 327.1h0M536.2 331.3h0M536.2 339.7h0M536.2 352.3h0M536.2 354.4h0M537.5 322.8h0M537.5 324.9h0M537.5 327.0h0M537.5 339.6h0M537.5 345.9h0M537.5 348.0h0M537.5 350.1h0M538.8 326.1h0M538.8 328.2h0M538.8 330.3h0M538.8 332.4h0M538.8 340.8h0M538.8 345.0h0M540.1 340.7h0M540.1 344.9h0M541.4 332.5h0M541.4 336.7h0M541.4 353.5h0M542.7 337.2h0M542.7 339.3h0M542.7 341.4h0M542.7 349.8h0M542.7 351.9h0M542.7 354.0h0M544.0 337.8h0M544.0 342.0h0M544.0 346.2h0M544.0 350.4h0M545.3 342.2h0M545.3 344.3h0M546.6 335.9h0M546.6 346.4h0M546.6 350.6h0M547.9 333.1h0M547.9 352.0h0M547.9 356.2h0M549.2 322.2h0M549.2 326.4h0M549.2 339.0h0M549.2 341.1h0M549.2 353.7h0M550.5 321.7h0M550.5 340.6h0M550.5 342.7h0M550.5 346.9h0M550.5 357.4h0M551.8 322.1h0M551.8 324.2h0M551.8 332.6h0M551.8 336.8h0M551.8 338.9h0M551.8 347.3h0M551.8 353.6h0M551.8 362.0h0M551.8 364.1h0M553.1 319.4h0M553.1 321.5h0M553.1 325.7h0M553.1 329.9h0M553.1 340.4h0M553.1 357.2h0M554.4 326.1h0M554.4 332.4h0M554.4 342.9h0M554.4 351.3h0M555.7 322.7h0M555.7 326.9h0M555.7 341.6h0M555.7 343.7h0M555.7 345.8h0M555.7 347.9h0M557.0 314.8h0M557.0 316.9h0M557.0 323.2h0M557.0 335.8h0M557.0 337.9h0M557.0 340.0h0M558.3 318.6h0M558.3 329.1h0M558.3 331.2h0M558.3 333.3h0M558.3 341.7h0M558.3 343.8h0M558.3 354.3h0M558.3 356.4h0M559.6 313.4h0M559.6 315.5h0M559.6 326.0h0M559.6 328.1h0M559.6 332.3h0M559.6 334.4h0M559.6 336.5h0M559.6 349.1h0M559.6 363.8h0M560.9 309.6h0M560.9 311.7h0M560.9 313.8h0M560.9 322.2h0M560.9 330.6h0M560.9 332.7h0M560.9 336.9h0M560.9 349.5h0M560.9 357.9h0M562.2 306.0h0M562.2 308.1h0M562.2 320.7h0M562.2 322.8h0M562.2 333.3h0M562.2 341.7h0M562.2 343.8h0M562.2 350.1h0M562.2 358.5h0M563.5 306.8h0M563.5 308.9h0M563.5 311.0h0M563.5 317.3h0M563.5 319.4h0M563.5 329.9h0M563.5 334.1h0M563.5 336.2h0M563.5 338.3h0M563.5 342.5h0M563.5 353.0h0M563.5 363.5h0M563.5 367.7h0M564.8 312.5h0M564.8 314.6h0M564.8 323.0h0M564.8 329.3h0M564.8 331.4h0M564.8 337.7h0M564.8 339.8h0M564.8 344.0h0M564.8 348.2h0M564.8 350.3h0M564.8 358.7h0M564.8 369.2h0M566.1 321.0h0M566.1 323.1h0M566.1 339.9h0M566.1 344.1h0M567.4 318.4h0M567.4 322.6h0M567.4 343.6h0M567.4 345.7h0M568.7 312.9h0M568.7 315.0h0M568.7 321.3h0M568.7 331.8h0M568.7 333.9h0M568.7 350.7h0M568.7 354.9h0M568.7 357.0h0M570.0 309.7h0M570.0 311.8h0M570.0 316.0h0M570.0 322.3h0M570.0 328.6h0M570.0 341.2h0M570.0 343.3h0M570.0 351.7h0M570.0 353.8h0M570.0 358.0h0M570.0 364.3h0M570.0 368.5h0M570.0 374.8h0M570.0 376.9h0M571.3 308.4h0M571.3 325.2h0M571.3 327.3h0M571.3 329.4h0M571.3 335.7h0M571.3 339.9h0M571.3 342.0h0M571.3 344.1h0M571.3 346.2h0M571.3 350.4h0M571.3 352.5h0M571.3 367.2h0M571.3 373.5h0M571.3 375.6h0M571.3 377.7h0M572.6 314.0h0M572.6 318.2h0M572.6 322.4h0M572.6 326.6h0M572.6 328.7h0M572.6 343.4h0M572.6 347.6h0M572.6 349.7h0M572.6 358.1h0M572.6 366.5h0M572.6 368.6h0M573.9 317.4h0M573.9 325.8h0M573.9 338.4h0M573.9 340.5h0M573.9 342.6h0M573.9 344.7h0M573.9 346.8h0M573.9 355.2h0M573.9 357.3h0M573.9 359.4h0M573.9 361.5h0M573.9 367.8h0M573.9 372.0h0M575.2 313.8h0M575.2 315.9h0M575.2 318.0h0M575.2 328.5h0M575.2 341.1h0M575.2 343.2h0M575.2 345.3h0M575.2 362.1h0M575.2 364.2h0M575.2 370.5h0M576.5 311.5h0M576.5 313.6h0M576.5 317.8h0M576.5 319.9h0M576.5 328.3h0M576.5 332.5h0M576.5 336.7h0M576.5 343.0h0M576.5 345.1h0M576.5 353.5h0M576.5 355.6h0M576.5 357.7h0M576.5 361.9h0M576.5 366.1h0M576.5 368.2h0M576.5 372.4h0M577.8 309.3h0M577.8 317.7h0M577.8 324.0h0M577.8 326.1h0M577.8 328.2h0M577.8 334.5h0M577.8 340.8h0M577.8 342.9h0M577.8 347.1h0M577.8 351.3h0M577.8 353.4h0M577.8 355.5h0M577.8 368.1h0M577.8 376.5h0M577.8 380.7h0M577.8 382.8h0M579.1 315.3h0M579.1 317.4h0M579.1 319.5h0M579.1 323.7h0M579.1 327.9h0M579.1 330.0h0M579.1 355.2h0M579.1 365.7h0M579.1 367.8h0M579.1 369.9h0M579.1 378.3h0M580.4 322.9h0M580.4 325.0h0M580.4 333.4h0M580.4 341.8h0M580.4 354.4h0M580.4 358.6h0M580.4 364.9h0M580.4 367.0h0M580.4 369.1h0M580.4 371.2h0M581.7 338.8h0M581.7 340.9h0M581.7 345.1h0M581.7 349.3h0M581.7 361.9h0M581.7 366.1h0M581.7 368.2h0M581.7 372.4h0M581.7 374.5h0M583.0 331.3h0M583.0 333.4h0M583.0 343.9h0M583.0 350.2h0M583.0 367.0h0M583.0 371.2h0M583.0 375.4h0M584.3 327.3h0M584.3 329.4h0M584.3 337.8h0M584.3 344.1h0M584.3 350.4h0M584.3 358.8h0M584.3 363.0h0M584.3 379.8h0M585.6 325.1h0M585.6 327.2h0M585.6 331.4h0M585.6 350.3h0M585.6 356.6h0M585.6 360.8h0M585.6 362.9h0M585.6 365.0h0M586.9 320.6h0M586.9 335.3h0M586.9 337.4h0M586.9 341.6h0M586.9 352.1h0M586.9 356.3h0M586.9 358.4h0M588.2 323.8h0M588.2 325.9h0M588.2 330.1h0M588.2 334.3h0M588.2 353.2h0M588.2 357.4h0M589.5 328.5h0M589.5 334.8h0M589.5 345.3h0M589.5 355.8h0M589.5 360.0h0M589.5 364.2h0M590.8 329.3h0M590.8 331.4h0M590.8 333.5h0M590.8 335.6h0M590.8 341.9h0M590.8 356.6h0M590.8 362.9h0M590.8 365.0h0M590.8 367.1h0M592.1 326.7h0M592.1 328.8h0M592.1 330.9h0M592.1 333.0h0M592.1 335.1h0M592.1 341.4h0M592.1 354.0h0M592.1 356.1h0M592.1 360.3h0M592.1 366.6h0M593.4 326.2h0M593.4 330.4h0M593.4 334.6h0M593.4 345.1h0M593.4 361.9h0M593.4 364.0h0M594.7 331.5h0M594.7 354.6h0M594.7 358.8h0M594.7 360.9h0M594.7 363.0h0M596.0 321.1h0M596.0 323.2h0M596.0 329.5h0M596.0 344.2h0M596.0 363.1h0M597.3 328.2h0M597.3 330.3h0M597.3 334.5h0M597.3 347.1h0M597.3 355.5h0M597.3 357.6h0M603.8 405.7h0M603.8 409.9h0M603.8 435.1h0M603.8 437.2h0M605.1 387.3h0M605.1 389.4h0M605.1 395.7h0M605.1 406.2h0M605.1 431.4h0M606.4 370.7h0M606.4 374.9h0M606.4 381.2h0M606.4 385.4h0M606.4 387.5h0M606.4 393.8h0M606.4 395.9h0M606.4 400.1h0M606.4 404.3h0M606.4 406.4h0M606.4 408.5h0M606.4 412.7h0M606.4 423.2h0M606.4 427.4h0M606.4 429.5h0M607.7 369.0h0M607.7 371.1h0M607.7 373.2h0M607.7 375.3h0M607.7 387.9h0M607.7 390.0h0M607.7 392.1h0M607.7 404.7h0M607.7 411.0h0M607.7 415.2h0M609.0 371.6h0M609.0 375.8h0M609.0 392.6h0M609.0 394.7h0M609.0 401.0h0M609.0 405.2h0M609.0 407.3h0M609.0 424.1h0M609.0 426.2h0M610.3 377.4h0M610.3 379.5h0M610.3 381.6h0M610.3 400.5h0M610.3 415.2h0M610.3 417.3h0M610.3 419.4h0M611.6 377.1h0M611.6 381.3h0M611.6 383.4h0M611.6 385.5h0M611.6 391.8h0M611.6 396.0h0M611.6 398.1h0M611.6 404.4h0M611.6 419.1h0M612.9 372.9h0M612.9 375.0h0M612.9 391.8h0M612.9 421.2h0M612.9 423.3h0M612.9 425.4h0M614.2 374.7h0M614.2 381.0h0M614.2 387.3h0M614.2 395.7h0M614.2 397.8h0M614.2 404.1h0M614.2 408.3h0M614.2 420.9h0M614.2 425.1h0M615.5 373.8h0M615.5 378.0h0M615.5 382.2h0M615.5 394.8h0M615.5 401.1h0M615.5 403.2h0M615.5 407.4h0M615.5 409.5h0M615.5 420.0h0M615.5 422.1h0M615.5 424.2h0M615.5 428.4h0M615.5 430.5h0M616.8 374.2h0M616.8 376.3h0M616.8 378.4h0M616.8 395.2h0M616.8 403.6h0M616.8 405.7h0M616.8 414.1h0M616.8 418.3h0M616.8 424.6h0M616.8 426.7h0M616.8 428.8h0M618.1 379.0h0M618.1 381.1h0M618.1 389.5h0M618.1 397.9h0M618.1 431.5h0M618.1 433.6h0M619.4 390.1h0M619.4 394.3h0M619.4 406.9h0M619.4 430.0h0M619.4 434.2h0M620.7 404.3h0M620.7 410.6h0M620.7 427.4h0M620.7 433.7h0M622.0 399.1h0M622.0 401.2h0M622.0 415.9h0M622.0 436.9h0M623.3 392.1h0M623.3 394.2h0M623.3 429.9h0M623.3 434.1h0M624.6 387.7h0M624.6 398.2h0M624.6 400.3h0M624.6 410.8h0M624.6 412.9h0M624.6 419.2h0M624.6 425.5h0M624.6 436.0h0M625.9 382.7h0M625.9 391.1h0M625.9 405.8h0M625.9 416.3h0M625.9 420.5h0M625.9 422.6h0M625.9 424.7h0M625.9 426.8h0M625.9 428.9h0M625.9 435.2h0M625.9 437.3h0M625.9 439.4h0M627.2 391.6h0M627.2 393.7h0M627.2 395.8h0M627.2 402.1h0M627.2 404.2h0M627.2 408.4h0M627.2 414.7h0M627.2 418.9h0M627.2 421.0h0M627.2 439.9h0M628.5 388.7h0M628.5 392.9h0M628.5 397.1h0M628.5 403.4h0M628.5 407.6h0M628.5 413.9h0M628.5 416.0h0M628.5 418.1h0M628.5 432.8h0M628.5 439.1h0M628.5 441.2h0M629.8 379.8h0M629.8 381.9h0M629.8 386.1h0M629.8 394.5h0M629.8 396.6h0M629.8 402.9h0M629.8 405.0h0M629.8 419.7h0M629.8 434.4h0M629.8 442.8h0M631.1 382.5h0M631.1 397.2h0M631.1 399.3h0M631.1 401.4h0M631.1 405.6h0M631.1 407.7h0M631.1 409.8h0M631.1 411.9h0M631.1 420.3h0M631.1 424.5h0M631.1 426.6h0M631.1 428.7h0M631.1 430.8h0M631.1 435.0h0M631.1 437.1h0M631.1 439.2h0M632.4 378.1h0M632.4 380.2h0M632.4 384.4h0M632.4 394.9h0M632.4 411.7h0M632.4 413.8h0M632.4 415.9h0M632.4 418.0h0M632.4 420.1h0M632.4 424.3h0M632.4 426.4h0M632.4 434.8h0M632.4 436.9h0M632.4 439.0h0M633.7 379.3h0M633.7 381.4h0M633.7 385.6h0M633.7 391.9h0M633.7 406.6h0M633.7 415.0h0M633.7 421.3h0M633.7 423.4h0M633.7 425.5h0M633.7 429.7h0M633.7 442.3h0M635.0 385.3h0M635.0 402.1h0M635.0 408.4h0M635.0 410.5h0M635.0 414.7h0M635.0 418.9h0M635.0 427.3h0M635.0 442.0h0M636.3 393.0h0M636.3 397.2h0M636.3 418.2h0M636.3 422.4h0M636.3 424.5h0M636.3 428.7h0M636.3 435.0h0M637.6 387.1h0M637.6 401.8h0M637.6 410.2h0M637.6 414.4h0M637.6 418.6h0M637.6 422.8h0M637.6 427.0h0M637.6 433.3h0M637.6 437.5h0M638.9 390.1h0M638.9 396.4h0M638.9 402.7h0M638.9 411.1h0M638.9 413.2h0M638.9 423.7h0M638.9 425.8h0M638.9 432.1h0M640.2 388.1h0M640.2 400.7h0M640.2 402.8h0M640.2 407.0h0M640.2 411.2h0M640.2 413.3h0M640.2 423.8h0M640.2 432.2h0M641.5 400.5h0M641.5 404.7h0M641.5 413.1h0M641.5 423.6h0M641.5 436.2h0M641.5 438.3h0M642.8 397.9h0M642.8 402.1h0M642.8 437.8h0M644.1 399.7h0M644.1 401.8h0M644.1 403.9h0M644.1 418.6h0M644.1 422.8h0M644.1 424.9h0M644.1 429.1h0M645.4 398.5h0M645.4 413.2h0M645.4 436.3h0M646.7 398.2h0M646.7 400.3h0M646.7 402.4h0M646.7 404.5h0M646.7 410.8h0M646.7 412.9h0M646.7 421.3h0M646.7 436.0h0M646.7 442.3h0M648.0 398.4h0M648.0 400.5h0M648.0 406.8h0M648.0 411.0h0M648.0 415.2h0M648.0 429.9h0M648.0 432.0h0M648.0 440.4h0M649.3 395.0h0M649.3 399.2h0M649.3 411.8h0M649.3 422.3h0M649.3 434.9h0M649.3 439.1h0M650.6 394.2h0M650.6 396.3h0M650.6 398.4h0M650.6 413.1h0M650.6 419.4h0M650.6 423.6h0M650.6 427.8h0M650.6 436.2h0M650.6 440.4h0M651.9 404.5h0M651.9 406.6h0M651.9 415.0h0M651.9 433.9h0M651.9 436.0h0M653.2 408.2h0M653.2 412.4h0M653.2 418.7h0M653.2 435.5h0M654.5 407.8h0M654.5 409.9h0M654.5 420.4h0M654.5 441.4h0M655.8 385.3h0M655.8 387.4h0M655.8 395.8h0M655.8 402.1h0M655.8 427.3h0M655.8 435.7h0M655.8 437.8h0M657.1 367.1h0M657.1 369.2h0M657.1 377.6h0M657.1 379.7h0M657.1 388.1h0M657.1 390.2h0M657.1 392.3h0M657.1 396.5h0M657.1 398.6h0M657.1 404.9h0M657.1 413.3h0M657.1 415.4h0M657.1 417.5h0M657.1 419.6h0M657.1 421.7h0M657.1 423.8h0M657.1 428.0h0M657.1 436.4h0M657.1 442.7h0M658.4 371.2h0M658.4 373.3h0M658.4 375.4h0M658.4 381.7h0M658.4 390.1h0M658.4 396.4h0M658.4 404.8h0M658.4 406.9h0M658.4 411.1h0M658.4 419.5h0M658.4 427.9h0M658.4 432.1h0M658.4 438.4h0M659.7 368.6h0M659.7 372.8h0M659.7 377.0h0M659.7 381.2h0M659.7 383.3h0M659.7 387.5h0M659.7 391.7h0M659.7 400.1h0M659.7 402.2h0M659.7 406.4h0M659.7 423.2h0M659.7 425.3h0M659.7 433.7h0M661.0 365.6h0M661.0 367.7h0M661.0 380.3h0M661.0 386.6h0M661.0 390.8h0M661.0 395.0h0M661.0 397.1h0M661.0 401.3h0M661.0 405.5h0M661.0 411.8h0M661.0 420.2h0M661.0 422.3h0M661.0 434.9h0M662.3 370.1h0M662.3 372.2h0M662.3 376.4h0M662.3 378.5h0M662.3 386.9h0M662.3 391.1h0M662.3 401.6h0M662.3 407.9h0M662.3 414.2h0M662.3 431.0h0M662.3 433.1h0M662.3 435.2h0M662.3 437.3h0M662.3 439.4h0M663.6 373.3h0M663.6 377.5h0M663.6 379.6h0M663.6 383.8h0M663.6 396.4h0M663.6 430.0h0M664.9 372.3h0M664.9 376.5h0M664.9 387.0h0M664.9 401.7h0M666.2 368.0h0M666.2 378.5h0M666.2 389.0h0M666.2 393.2h0M667.5 370.1h0M667.5 397.4h0M667.5 399.5h0M667.5 401.6h0M668.8 361.1h0M668.8 363.2h0M668.8 371.6h0M668.8 375.8h0M668.8 377.9h0M668.8 392.6h0M668.8 405.2h0M668.8 407.3h0M668.8 409.4h0M670.1 362.0h0M670.1 366.2h0M670.1 372.5h0M670.1 376.7h0M670.1 387.2h0M670.1 389.3h0M670.1 399.8h0M670.1 401.9h0M670.1 406.1h0M670.1 408.2h0M671.4 365.7h0M671.4 367.8h0M671.4 374.1h0M671.4 386.7h0M671.4 388.8h0M671.4 393.0h0M671.4 401.4h0M671.4 409.8h0M671.4 411.9h0M671.4 414.0h0M672.7 369.3h0M672.7 371.4h0M672.7 381.9h0M672.7 394.5h0M672.7 396.6h0M672.7 400.8h0M674.0 371.2h0M674.0 385.9h0M674.0 402.7h0M674.0 411.1h0M674.0 413.2h0M674.0 415.3h0M675.3 366.8h0M675.3 368.9h0M675.3 375.2h0M675.3 379.4h0M675.3 381.5h0M675.3 392.0h0M675.3 394.1h0M675.3 402.5h0M676.6 366.8h0M676.6 368.9h0M676.6 377.3h0M676.6 385.7h0M676.6 396.2h0M676.6 398.3h0M676.6 404.6h0M676.6 406.7h0M677.9 369.0h0M677.9 373.2h0M677.9 377.4h0M677.9 400.5h0M677.9 411.0h0M677.9 413.1h0M679.2 366.7h0M679.2 377.2h0M679.2 379.3h0M679.2 402.4h0M679.2 404.5h0M680.5 366.1h0M680.5 370.3h0M680.5 372.4h0M680.5 378.7h0M680.5 380.8h0M680.5 385.0h0M680.5 389.2h0M680.5 397.6h0M681.8 361.5h0M681.8 365.7h0M681.8 367.8h0M681.8 378.3h0M681.8 384.6h0M681.8 403.5h0M683.1 357.2h0M683.1 367.7h0M683.1 369.8h0M683.1 374.0h0M683.1 376.1h0M683.1 378.2h0M683.1 403.4h0M683.1 405.5h0M683.1 407.6h0M683.1 409.7h0M684.4 362.9h0M684.4 377.6h0M684.4 381.8h0M684.4 388.1h0M684.4 390.2h0M684.4 394.4h0M684.4 396.5h0M684.4 400.7h0M684.4 413.3h0M684.4 415.4h0M685.7 355.3h0M685.7 359.5h0M685.7 361.6h0M685.7 370.0h0M685.7 372.1h0M685.7 374.2h0M685.7 378.4h0M685.7 384.7h0M685.7 386.8h0M685.7 399.4h0M685.7 412.0h0M687.0 358.2h0M687.0 362.4h0M687.0 364.5h0M687.0 372.9h0M687.0 379.2h0M687.0 385.5h0M687.0 387.6h0M687.0 389.7h0M687.0 402.3h0M688.3 360.1h0M688.3 362.2h0M688.3 364.3h0M688.3 370.6h0M688.3 379.0h0M688.3 387.4h0M689.6 363.3h0M689.6 399.0h0M689.6 401.1h0M689.6 403.2h0M689.6 405.3h0M690.9 353.1h0M690.9 355.2h0M690.9 359.4h0M690.9 361.5h0M690.9 372.0h0M690.9 380.4h0M690.9 386.7h0M690.9 388.8h0M690.9 401.4h0M690.9 403.5h0M690.9 418.2h0M692.2 362.6h0M692.2 368.9h0M692.2 373.1h0M692.2 377.3h0M692.2 379.4h0M692.2 381.5h0M692.2 387.8h0M692.2 392.0h0M692.2 413.0h0M692.2 415.1h0M692.2 427.7h0M692.2 431.9h0M693.5 376.6h0M693.5 380.8h0M693.5 401.8h0M693.5 403.9h0M693.5 412.3h0M693.5 416.5h0M693.5 427.0h0M693.5 429.1h0M694.8 383.8h0M694.8 385.9h0M694.8 404.8h0M694.8 406.9h0M694.8 413.2h0M694.8 417.4h0M694.8 421.6h0M694.8 432.1h0M694.8 434.2h0M694.8 440.5h0M696.1 380.2h0M696.1 382.3h0M696.1 399.1h0M696.1 403.3h0M696.1 405.4h0M696.1 422.2h0M696.1 424.3h0M696.1 430.6h0M696.1 432.7h0M697.4 379.9h0M697.4 384.1h0M697.4 390.4h0M697.4 403.0h0M697.4 405.1h0M697.4 409.3h0M697.4 413.5h0M697.4 417.7h0M697.4 419.8h0M697.4 432.4h0M697.4 434.5h0M698.7 347.7h0M698.7 349.8h0M698.7 351.9h0M698.7 354.0h0M698.7 356.1h0M698.7 360.3h0M698.7 368.7h0M698.7 377.1h0M698.7 383.4h0M698.7 385.5h0M698.7 400.2h0M698.7 404.4h0M698.7 408.6h0M698.7 414.9h0M698.7 421.2h0M698.7 423.3h0M698.7 427.5h0M700.0 347.9h0M700.0 350.0h0M700.0 358.4h0M700.0 362.6h0M700.0 364.7h0M700.0 366.8h0M700.0 371.0h0M700.0 373.1h0M700.0 377.3h0M700.0 379.4h0M700.0 381.5h0M700.0 383.6h0M700.0 385.7h0M700.0 392.0h0M700.0 396.2h0M700.0 400.4h0M700.0 404.6h0M700.0 408.8h0M700.0 413.0h0M700.0 417.2h0M701.3 348.6h0M701.3 350.7h0M701.3 357.0h0M701.3 361.2h0M701.3 365.4h0M701.3 371.7h0M701.3 375.9h0M701.3 378.0h0M701.3 382.2h0M701.3 384.3h0M701.3 388.5h0M701.3 392.7h0M701.3 403.2h0M701.3 415.8h0M701.3 422.1h0M701.3 426.3h0M701.3 430.5h0M701.3 432.6h0M702.6 354.1h0M702.6 356.2h0M702.6 364.6h0M702.6 368.8h0M702.6 373.0h0M702.6 377.2h0M702.6 383.5h0M702.6 385.6h0M702.6 391.9h0M702.6 398.2h0M702.6 404.5h0M702.6 410.8h0M702.6 417.1h0M702.6 419.2h0M702.6 425.5h0M702.6 427.6h0M702.6 429.7h0M703.9 344.0h0M703.9 348.2h0M703.9 350.3h0M703.9 352.4h0M703.9 360.8h0M703.9 367.1h0M703.9 371.3h0M703.9 375.5h0M703.9 383.9h0M703.9 398.6h0M703.9 407.0h0M703.9 413.3h0M703.9 415.4h0M703.9 423.8h0M703.9 430.1h0M703.9 432.2h0M705.2 345.4h0M705.2 351.7h0M705.2 358.0h0M705.2 360.1h0M705.2 362.2h0M705.2 364.3h0M705.2 366.4h0M705.2 370.6h0M705.2 376.9h0M705.2 379.0h0M705.2 383.2h0M705.2 387.4h0M705.2 389.5h0M705.2 393.7h0M705.2 402.1h0M705.2 406.3h0M705.2 408.4h0M705.2 410.5h0M705.2 414.7h0M705.2 416.8h0M706.5 347.2h0M706.5 357.7h0M706.5 364.0h0M706.5 368.2h0M706.5 372.4h0M706.5 380.8h0M706.5 382.9h0M706.5 406.0h0M706.5 408.1h0M706.5 410.2h0M707.8 351.1h0M707.8 353.2h0M707.8 355.3h0M707.8 359.5h0M707.8 363.7h0M707.8 374.2h0M707.8 393.1h0M707.8 395.2h0M707.8 399.4h0M709.1 356.6h0M709.1 362.9h0M709.1 365.0h0M709.1 377.6h0M709.1 381.8h0M709.1 386.0h0M709.1 388.1h0M709.1 390.2h0M710.4 355.4h0M710.4 376.4h0M710.4 386.9h0M710.4 389.0h0M710.4 391.1h0M711.7 352.0h0M711.7 375.1h0M711.7 383.5h0M711.7 385.6h0M711.7 387.7h0M713.0 343.3h0M713.0 345.4h0M713.0 347.5h0M713.0 351.7h0M713.0 355.9h0M713.0 360.1h0M713.0 364.3h0M713.0 372.7h0M713.0 383.2h0M713.0 387.4h0M713.0 389.5h0M714.3 337.3h0M714.3 341.5h0M714.3 352.0h0M714.3 360.4h0M714.3 362.5h0M714.3 364.6h0M714.3 368.8h0M714.3 370.9h0M714.3 375.1h0M714.3 381.4h0M714.3 383.5h0M714.3 391.9h0M715.6 335.2h0M715.6 337.3h0M715.6 345.7h0M715.6 347.8h0M715.6 352.0h0M715.6 354.1h0M715.6 356.2h0M715.6 360.4h0M715.6 373.0h0M715.6 379.3h0M715.6 383.5h0M715.6 387.7h0M715.6 391.9h0M716.9 331.2h0M716.9 333.3h0M716.9 335.4h0M716.9 337.5h0M716.9 348.0h0M716.9 352.2h0M716.9 354.3h0M716.9 358.5h0M716.9 362.7h0M716.9 369.0h0M716.9 375.3h0M716.9 377.4h0M716.9 392.1h0M718.2 335.8h0M718.2 337.9h0M718.2 340.0h0M718.2 342.1h0M718.2 344.2h0M718.2 346.3h0M718.2 352.6h0M718.2 358.9h0M718.2 363.1h0M718.2 365.2h0M718.2 367.3h0M718.2 369.4h0M718.2 371.5h0M718.2 373.6h0M718.2 382.0h0M718.2 384.1h0M718.2 388.3h0M718.2 390.4h0M718.2 396.7h0M718.2 398.8h0M718.2 400.9h0M719.5 339.0h0M719.5 341.1h0M719.5 345.3h0M719.5 351.6h0M719.5 353.7h0M719.5 360.0h0M719.5 368.4h0M719.5 376.8h0M719.5 393.6h0M719.5 395.7h0M719.5 397.8h0M719.5 399.9h0M719.5 402.0h0M719.5 410.4h0M719.5 412.5h0M720.8 339.0h0M720.8 343.2h0M720.8 345.3h0M720.8 355.8h0M720.8 368.4h0M720.8 370.5h0M720.8 374.7h0M720.8 376.8h0M720.8 378.9h0M720.8 389.4h0M720.8 391.5h0M720.8 393.6h0M720.8 395.7h0M720.8 397.8h0M720.8 406.2h0M722.1 334.8h0M722.1 336.9h0M722.1 339.0h0M722.1 341.1h0M722.1 349.5h0M722.1 353.7h0M722.1 355.8h0M722.1 357.9h0M722.1 360.0h0M722.1 368.4h0M722.1 376.8h0M722.1 378.9h0M722.1 397.8h0M722.1 399.9h0M722.1 408.3h0M722.1 410.4h0M723.4 337.8h0M723.4 339.9h0M723.4 342.0h0M723.4 348.3h0M723.4 350.4h0M723.4 358.8h0M723.4 369.3h0M723.4 373.5h0M723.4 377.7h0M723.4 384.0h0M723.4 388.2h0M723.4 390.3h0M723.4 392.4h0M723.4 394.5h0M723.4 398.7h0M723.4 400.8h0M723.4 409.2h0M724.7 334.8h0M724.7 336.9h0M724.7 343.2h0M724.7 345.3h0M724.7 351.6h0M724.7 357.9h0M724.7 360.0h0M724.7 366.3h0M724.7 368.4h0M724.7 370.5h0M724.7 372.6h0M724.7 374.7h0M724.7 378.9h0M724.7 383.1h0M724.7 385.2h0M724.7 389.4h0M724.7 391.5h0M724.7 393.6h0M724.7 395.7h0M724.7 399.9h0M724.7 408.3h0M724.7 410.4h0M724.7 412.5h0M726.0 341.2h0M726.0 343.3h0M726.0 345.4h0M726.0 347.5h0M726.0 351.7h0M726.0 366.4h0M726.0 368.5h0M726.0 372.7h0M726.0 374.8h0M726.0 376.9h0M726.0 379.0h0M726.0 389.5h0M726.0 391.6h0M726.0 395.8h0M727.3 363.3h0M727.3 365.4h0M727.3 375.9h0M727.3 382.2h0M727.3 403.2h0M727.3 405.3h0M728.6 377.6h0M728.6 407.0h0M729.9 382.8h0M729.9 393.3h0M729.9 395.4h0M729.9 397.5h0M729.9 405.9h0M729.9 410.1h0M731.2 382.6h0M731.2 384.7h0M731.2 405.7h0M731.2 409.9h0M731.2 412.0h0M731.2 414.1h0M732.5 384.6h0M732.5 386.7h0M732.5 390.9h0M732.5 409.8h0M732.5 411.9h0M733.8 391.4h0M733.8 393.5h0M733.8 414.5h0M733.8 416.6h0M735.1 391.0h0M735.1 393.1h0M735.1 414.1h0M735.1 416.2h0M736.4 380.2h0M736.4 390.7h0M736.4 401.2h0M736.4 407.5h0M736.4 409.6h0M736.4 411.7h0M736.4 413.8h0M736.4 415.9h0M737.7 373.5h0M737.7 379.8h0M737.7 381.9h0M737.7 388.2h0M737.7 390.3h0M737.7 394.5h0M737.7 398.7h0M737.7 400.8h0M737.7 409.2h0M737.7 413.4h0M737.7 417.6h0M737.7 419.7h0M739.0 383.6h0M739.0 387.8h0M739.0 394.1h0M739.0 400.4h0M739.0 406.7h0M739.0 408.8h0M739.0 413.0h0M739.0 419.3h0M739.0 423.5h0M739.0 425.6h0M740.3 384.0h0M740.3 396.6h0M740.3 405.0h0M740.3 409.2h0M740.3 411.3h0M740.3 413.4h0M740.3 417.6h0M740.3 419.7h0M741.6 379.0h0M741.6 381.1h0M741.6 385.3h0M741.6 387.4h0M741.6 389.5h0M741.6 402.1h0M741.6 404.2h0M742.9 376.9h0M742.9 381.1h0M742.9 385.3h0M742.9 391.6h0M742.9 393.7h0M742.9 402.1h0M742.9 408.4h0M742.9 412.6h0M742.9 418.9h0M744.2 372.6h0M744.2 374.7h0M744.2 385.2h0M744.2 395.7h0M744.2 399.9h0M744.2 402.0h0M744.2 406.2h0M744.2 410.4h0M744.2 418.8h0M744.2 423.0h0M744.2 429.3h0M745.5 378.9h0M745.5 399.9h0M745.5 404.1h0M745.5 414.6h0M745.5 420.9h0M745.5 425.1h0M745.5 429.3h0M746.8 377.0h0M746.8 385.4h0M746.8 387.5h0M746.8 389.6h0M746.8 391.7h0M746.8 393.8h0M746.8 402.2h0M746.8 404.3h0M746.8 410.6h0M746.8 412.7h0M746.8 414.8h0M746.8 423.2h0M746.8 429.5h0M746.8 431.6h0M748.1 397.0h0M748.1 399.1h0M748.1 403.3h0M748.1 418.0h0M748.1 422.2h0M748.1 432.7h0M749.4 407.9h0M749.4 418.4h0M749.4 431.0h0M749.4 433.1h0M750.7 408.7h0M750.7 410.8h0M750.7 421.3h0M750.7 423.4h0M750.7 433.9h0M750.7 438.1h0M752.0 411.5h0M752.0 413.6h0M752.0 415.7h0M752.0 417.8h0M752.0 432.5h0M753.3 418.5h0M753.3 422.7h0M753.3 424.8h0M753.3 433.2h0M753.3 437.4h0" stroke="#fff" stroke-width="1.2" stroke-linecap="round" fill="none"/>
<g fill="none" stroke="#00f" stroke-width="0.95"><circle cx="190.6" cy="202.2" r="1.05"/><circle cx="192.7" cy="195.0" r="1.05"/><circle cx="194.3" cy="189.6" r="1.05"/><circle cx="194.8" cy="184.3" r="1.05"/><circle cx="197.1" cy="193.4" r="1.05"/><circle cx="199.0" cy="202.2" r="1.05"/><circle cx="201.1" cy="184.3" r="1.05"/><circle cx="203.2" cy="195.0" r="1.05"/><circle cx="203.4" cy="210.6" r="1.05"/><circle cx="205.5" cy="207.5" r="1.05"/><circle cx="202.4" cy="217.6" r="1.05"/><circle cx="207.4" cy="196.5" r="1.05"/><circle cx="213.3" cy="196.9" r="1.05"/><circle cx="213.3" cy="202.2" r="1.05"/><circle cx="214.4" cy="182.6" r="1.05"/><circle cx="216.1" cy="184.3" r="1.05"/><circle cx="215.0" cy="198.4" r="1.05"/><circle cx="216.9" cy="198.4" r="1.05"/><circle cx="218.6" cy="198.4" r="1.05"/><circle cx="220.3" cy="198.4" r="1.05"/><circle cx="219.2" cy="195.0" r="1.05"/><circle cx="218.6" cy="210.6" r="1.05"/><circle cx="221.5" cy="205.4" r="1.05"/><circle cx="222.4" cy="179.0" r="1.05"/><circle cx="228.5" cy="128.0" r="1.05"/><circle cx="230.4" cy="128.0" r="1.05"/><circle cx="226.4" cy="138.6" r="1.05"/><circle cx="226.4" cy="143.8" r="1.05"/><circle cx="223.0" cy="154.4" r="1.05"/><circle cx="224.3" cy="156.3" r="1.05"/><circle cx="232.7" cy="150.8" r="1.05"/><circle cx="234.2" cy="161.3" r="1.05"/><circle cx="234.6" cy="163.0" r="1.05"/><circle cx="241.1" cy="152.5" r="1.05"/><circle cx="239.2" cy="175.4" r="1.05"/><circle cx="241.1" cy="175.4" r="1.05"/><circle cx="239.2" cy="182.6" r="1.05"/><circle cx="239.7" cy="187.7" r="1.05"/><circle cx="244.3" cy="193.2" r="1.05"/><circle cx="250.2" cy="186.2" r="1.05"/><circle cx="251.7" cy="186.2" r="1.05"/><circle cx="251.7" cy="203.9" r="1.05"/><circle cx="252.5" cy="205.4" r="1.05"/><circle cx="246.0" cy="215.9" r="1.05"/><circle cx="247.7" cy="219.5" r="1.05"/><circle cx="237.1" cy="217.6" r="1.05"/><circle cx="235.9" cy="219.5" r="1.05"/><circle cx="275.1" cy="170.2" r="1.05"/><circle cx="275.1" cy="177.3" r="1.05"/><circle cx="275.5" cy="179.0" r="1.05"/><circle cx="272.7" cy="182.6" r="1.05"/><circle cx="270.6" cy="191.3" r="1.05"/><circle cx="271.7" cy="195.0" r="1.05"/><circle cx="277.2" cy="198.4" r="1.05"/><circle cx="274.0" cy="202.2" r="1.05"/><circle cx="270.4" cy="205.4" r="1.05"/><circle cx="283.3" cy="200.3" r="1.05"/><circle cx="282.0" cy="210.6" r="1.05"/><circle cx="281.4" cy="212.8" r="1.05"/><circle cx="276.1" cy="215.9" r="1.05"/><circle cx="268.5" cy="219.5" r="1.05"/><circle cx="304.4" cy="175.4" r="1.05"/><circle cx="303.3" cy="187.7" r="1.05"/><circle cx="306.5" cy="191.3" r="1.05"/><circle cx="302.5" cy="198.4" r="1.05"/><circle cx="306.7" cy="196.5" r="1.05"/><circle cx="306.7" cy="200.3" r="1.05"/><circle cx="307.1" cy="209.0" r="1.05"/><circle cx="308.4" cy="210.4" r="1.05"/><circle cx="309.6" cy="182.4" r="1.05"/><circle cx="310.9" cy="180.7" r="1.05"/><circle cx="317.2" cy="195.0" r="1.05"/><circle cx="317.2" cy="200.3" r="1.05"/><circle cx="325.4" cy="184.3" r="1.05"/><circle cx="327.5" cy="184.3" r="1.05"/><circle cx="329.9" cy="189.6" r="1.05"/><circle cx="327.5" cy="195.0" r="1.05"/><circle cx="326.1" cy="196.5" r="1.05"/><circle cx="332.4" cy="193.2" r="1.05"/><circle cx="332.4" cy="212.8" r="1.05"/><circle cx="338.3" cy="175.9" r="1.05"/><circle cx="339.1" cy="177.3" r="1.05"/><circle cx="340.4" cy="173.8" r="1.05"/><circle cx="340.8" cy="175.4" r="1.05"/><circle cx="340.4" cy="166.6" r="1.05"/><circle cx="338.3" cy="187.7" r="1.05"/><circle cx="338.3" cy="195.0" r="1.05"/><circle cx="342.5" cy="182.4" r="1.05"/><circle cx="344.6" cy="180.7" r="1.05"/><circle cx="346.7" cy="184.3" r="1.05"/><circle cx="347.3" cy="171.9" r="1.05"/><circle cx="348.2" cy="179.0" r="1.05"/><circle cx="349.2" cy="189.6" r="1.05"/><circle cx="355.1" cy="149.1" r="1.05"/><circle cx="357.3" cy="154.4" r="1.05"/><circle cx="359.4" cy="166.6" r="1.05"/><circle cx="361.3" cy="175.4" r="1.05"/><circle cx="360.0" cy="182.4" r="1.05"/><circle cx="361.5" cy="195.0" r="1.05"/><circle cx="363.6" cy="170.2" r="1.05"/><circle cx="365.5" cy="168.5" r="1.05"/><circle cx="367.2" cy="215.9" r="1.05"/><circle cx="380.4" cy="145.5" r="1.05"/><circle cx="375.8" cy="189.6" r="1.05"/><circle cx="378.5" cy="187.7" r="1.05"/><circle cx="382.1" cy="189.6" r="1.05"/><circle cx="382.3" cy="191.3" r="1.05"/><circle cx="373.9" cy="196.5" r="1.05"/><circle cx="376.0" cy="196.5" r="1.05"/><circle cx="377.9" cy="196.5" r="1.05"/><circle cx="382.8" cy="198.4" r="1.05"/><circle cx="377.5" cy="202.2" r="1.05"/><circle cx="381.5" cy="202.2" r="1.05"/><circle cx="387.0" cy="200.3" r="1.05"/><circle cx="388.7" cy="200.3" r="1.05"/><circle cx="368.6" cy="215.9" r="1.05"/><circle cx="393.7" cy="218.0" r="1.05"/><circle cx="395.6" cy="214.4" r="1.05"/><circle cx="397.5" cy="219.5" r="1.05"/><circle cx="399.0" cy="214.4" r="1.05"/><circle cx="398.6" cy="210.6" r="1.05"/><circle cx="399.2" cy="209.0" r="1.05"/><circle cx="402.4" cy="209.0" r="1.05"/><circle cx="403.2" cy="215.9" r="1.05"/><circle cx="405.5" cy="217.6" r="1.05"/><circle cx="401.3" cy="200.3" r="1.05"/><circle cx="406.6" cy="203.7" r="1.05"/><circle cx="410.4" cy="203.7" r="1.05"/><circle cx="409.5" cy="198.4" r="1.05"/><circle cx="416.3" cy="198.4" r="1.05"/><circle cx="418.2" cy="212.8" r="1.05"/><circle cx="418.4" cy="215.9" r="1.05"/><circle cx="420.3" cy="195.0" r="1.05"/><circle cx="420.5" cy="196.5" r="1.05"/><circle cx="420.3" cy="200.3" r="1.05"/><circle cx="420.3" cy="203.7" r="1.05"/><circle cx="423.0" cy="191.3" r="1.05"/><circle cx="424.5" cy="193.2" r="1.05"/><circle cx="424.9" cy="195.0" r="1.05"/><circle cx="427.0" cy="187.7" r="1.05"/><circle cx="428.7" cy="189.6" r="1.05"/><circle cx="429.1" cy="191.3" r="1.05"/><circle cx="430.8" cy="193.2" r="1.05"/><circle cx="429.5" cy="196.5" r="1.05"/><circle cx="428.3" cy="198.4" r="1.05"/><circle cx="433.3" cy="187.7" r="1.05"/><circle cx="434.0" cy="191.3" r="1.05"/><circle cx="436.9" cy="189.6" r="1.05"/><circle cx="434.8" cy="203.7" r="1.05"/><circle cx="436.3" cy="179.0" r="1.05"/><circle cx="438.4" cy="172.1" r="1.05"/><circle cx="441.1" cy="179.0" r="1.05"/><circle cx="443.9" cy="179.0" r="1.05"/><circle cx="447.2" cy="166.6" r="1.05"/><circle cx="439.4" cy="150.8" r="1.05"/><circle cx="446.2" cy="133.3" r="1.05"/><circle cx="450.2" cy="142.1" r="1.05"/><circle cx="452.5" cy="154.4" r="1.05"/><circle cx="454.2" cy="158.0" r="1.05"/><circle cx="455.0" cy="179.0" r="1.05"/><circle cx="456.5" cy="175.4" r="1.05"/><circle cx="454.4" cy="186.2" r="1.05"/><circle cx="456.1" cy="187.7" r="1.05"/><circle cx="457.1" cy="164.9" r="1.05"/><circle cx="458.6" cy="163.2" r="1.05"/><circle cx="460.5" cy="158.0" r="1.05"/><circle cx="462.8" cy="164.9" r="1.05"/><circle cx="464.9" cy="170.2" r="1.05"/><circle cx="466.6" cy="170.2" r="1.05"/><circle cx="467.5" cy="172.1" r="1.05"/><circle cx="469.4" cy="175.4" r="1.05"/><circle cx="469.2" cy="158.0" r="1.05"/><circle cx="470.2" cy="166.6" r="1.05"/><circle cx="471.7" cy="168.5" r="1.05"/><circle cx="473.4" cy="179.0" r="1.05"/><circle cx="474.2" cy="154.4" r="1.05"/><circle cx="477.6" cy="152.5" r="1.05"/><circle cx="475.5" cy="163.0" r="1.05"/><circle cx="477.6" cy="163.0" r="1.05"/><circle cx="481.6" cy="164.9" r="1.05"/><circle cx="481.4" cy="175.4" r="1.05"/><circle cx="485.4" cy="175.4" r="1.05"/><circle cx="486.4" cy="170.2" r="1.05"/><circle cx="490.2" cy="170.2" r="1.05"/><circle cx="488.3" cy="159.6" r="1.05"/><circle cx="485.6" cy="187.7" r="1.05"/><circle cx="490.2" cy="182.4" r="1.05"/><circle cx="490.4" cy="184.3" r="1.05"/><circle cx="479.5" cy="198.4" r="1.05"/><circle cx="483.7" cy="207.5" r="1.05"/><circle cx="483.3" cy="210.6" r="1.05"/><circle cx="490.2" cy="145.5" r="1.05"/><circle cx="492.3" cy="147.4" r="1.05"/><circle cx="494.4" cy="126.3" r="1.05"/><circle cx="496.6" cy="138.6" r="1.05"/><circle cx="496.1" cy="158.0" r="1.05"/><circle cx="500.3" cy="156.3" r="1.05"/><circle cx="500.8" cy="163.2" r="1.05"/><circle cx="502.9" cy="158.0" r="1.05"/><circle cx="505.4" cy="158.0" r="1.05"/><circle cx="505.2" cy="164.9" r="1.05"/><circle cx="507.1" cy="166.6" r="1.05"/><circle cx="509.0" cy="172.1" r="1.05"/><circle cx="509.4" cy="179.0" r="1.05"/><circle cx="508.4" cy="182.4" r="1.05"/><circle cx="511.3" cy="156.3" r="1.05"/><circle cx="514.0" cy="154.4" r="1.05"/><circle cx="515.5" cy="150.8" r="1.05"/><circle cx="513.4" cy="147.4" r="1.05"/><circle cx="517.6" cy="177.3" r="1.05"/><circle cx="519.3" cy="177.3" r="1.05"/><circle cx="521.2" cy="200.3" r="1.05"/><circle cx="521.2" cy="212.8" r="1.05"/><circle cx="524.2" cy="119.2" r="1.05"/><circle cx="528.4" cy="117.5" r="1.05"/><circle cx="530.3" cy="122.3" r="1.05"/><circle cx="532.4" cy="108.6" r="1.05"/><circle cx="534.5" cy="119.2" r="1.05"/><circle cx="534.3" cy="145.5" r="1.05"/><circle cx="536.2" cy="110.1" r="1.05"/><circle cx="536.4" cy="111.8" r="1.05"/><circle cx="538.7" cy="136.9" r="1.05"/><circle cx="539.8" cy="135.2" r="1.05"/><circle cx="540.8" cy="131.2" r="1.05"/><circle cx="540.8" cy="122.3" r="1.05"/><circle cx="542.9" cy="117.5" r="1.05"/><circle cx="545.2" cy="140.3" r="1.05"/><circle cx="547.3" cy="142.1" r="1.05"/><circle cx="547.3" cy="126.3" r="1.05"/><circle cx="549.5" cy="200.3" r="1.05"/><circle cx="551.4" cy="122.3" r="1.05"/><circle cx="553.5" cy="113.7" r="1.05"/><circle cx="555.6" cy="107.0" r="1.05"/><circle cx="555.6" cy="126.3" r="1.05"/><circle cx="560.0" cy="124.4" r="1.05"/><circle cx="561.3" cy="136.9" r="1.05"/><circle cx="566.1" cy="117.5" r="1.05"/><circle cx="567.8" cy="121.1" r="1.05"/><circle cx="570.5" cy="110.1" r="1.05"/><circle cx="572.6" cy="128.0" r="1.05"/><circle cx="576.6" cy="135.0" r="1.05"/><circle cx="585.3" cy="112.2" r="1.05"/><circle cx="587.4" cy="113.7" r="1.05"/><circle cx="595.6" cy="110.1" r="1.05"/><circle cx="588.7" cy="124.4" r="1.05"/><circle cx="589.5" cy="131.2" r="1.05"/><circle cx="585.3" cy="135.0" r="1.05"/><circle cx="588.4" cy="135.0" r="1.05"/><circle cx="593.5" cy="135.0" r="1.05"/><circle cx="590.8" cy="140.3" r="1.05"/><circle cx="591.6" cy="143.8" r="1.05"/><circle cx="594.1" cy="143.8" r="1.05"/><circle cx="596.5" cy="145.5" r="1.05"/><circle cx="583.2" cy="156.3" r="1.05"/><circle cx="598.3" cy="172.1" r="1.05"/><circle cx="579.0" cy="191.3" r="1.05"/><circle cx="581.1" cy="191.3" r="1.05"/><circle cx="578.5" cy="195.0" r="1.05"/><circle cx="581.7" cy="198.4" r="1.05"/><circle cx="581.5" cy="205.4" r="1.05"/><circle cx="608.5" cy="196.5" r="1.05"/><circle cx="607.2" cy="198.4" r="1.05"/><circle cx="610.6" cy="198.4" r="1.05"/><circle cx="610.1" cy="202.2" r="1.05"/><circle cx="608.5" cy="209.0" r="1.05"/><circle cx="615.2" cy="214.2" r="1.05"/><circle cx="612.7" cy="219.5" r="1.05"/><circle cx="614.6" cy="219.5" r="1.05"/><circle cx="667.5" cy="193.2" r="1.05"/><circle cx="665.4" cy="195.0" r="1.05"/><circle cx="675.9" cy="200.3" r="1.05"/><circle cx="665.6" cy="209.0" r="1.05"/><circle cx="668.5" cy="209.0" r="1.05"/><circle cx="671.5" cy="209.0" r="1.05"/><circle cx="663.3" cy="212.8" r="1.05"/><circle cx="665.4" cy="214.2" r="1.05"/><circle cx="661.4" cy="215.9" r="1.05"/><circle cx="669.6" cy="215.9" r="1.05"/><circle cx="663.3" cy="219.5" r="1.05"/><circle cx="680.3" cy="212.8" r="1.05"/><circle cx="679.3" cy="182.4" r="1.05"/><circle cx="688.5" cy="184.3" r="1.05"/><circle cx="690.7" cy="189.6" r="1.05"/><circle cx="687.7" cy="198.4" r="1.05"/><circle cx="686.4" cy="202.2" r="1.05"/><circle cx="688.5" cy="161.3" r="1.05"/><circle cx="700.3" cy="161.3" r="1.05"/><circle cx="701.4" cy="159.6" r="1.05"/><circle cx="705.6" cy="159.6" r="1.05"/><circle cx="708.6" cy="170.2" r="1.05"/><circle cx="714.0" cy="177.3" r="1.05"/><circle cx="718.3" cy="177.3" r="1.05"/><circle cx="720.6" cy="177.3" r="1.05"/><circle cx="709.6" cy="182.4" r="1.05"/><circle cx="711.7" cy="182.4" r="1.05"/><circle cx="707.5" cy="189.6" r="1.05"/><circle cx="716.4" cy="186.2" r="1.05"/><circle cx="724.4" cy="172.1" r="1.05"/><circle cx="723.1" cy="198.4" r="1.05"/><circle cx="712.6" cy="210.6" r="1.05"/><circle cx="713.4" cy="215.9" r="1.05"/><circle cx="722.5" cy="117.5" r="1.05"/><circle cx="725.6" cy="152.7" r="1.05"/><circle cx="751.4" cy="182.4" r="1.05"/><circle cx="176.0" cy="265.5" r="1.05"/><circle cx="181.3" cy="267.2" r="1.05"/><circle cx="175.6" cy="272.5" r="1.05"/><circle cx="186.5" cy="277.7" r="1.05"/><circle cx="173.7" cy="286.6" r="1.05"/><circle cx="178.5" cy="284.9" r="1.05"/><circle cx="179.6" cy="286.6" r="1.05"/><circle cx="180.6" cy="287.9" r="1.05"/><circle cx="179.6" cy="289.5" r="1.05"/><circle cx="177.9" cy="291.7" r="1.05"/><circle cx="176.9" cy="295.0" r="1.05"/><circle cx="175.0" cy="295.4" r="1.05"/><circle cx="173.3" cy="295.4" r="1.05"/><circle cx="174.3" cy="299.0" r="1.05"/><circle cx="176.0" cy="300.7" r="1.05"/><circle cx="184.4" cy="300.7" r="1.05"/><circle cx="188.4" cy="297.3" r="1.05"/><circle cx="182.3" cy="313.2" r="1.05"/><circle cx="190.6" cy="316.5" r="1.05"/><circle cx="212.3" cy="246.3" r="1.05"/><circle cx="211.2" cy="255.0" r="1.05"/><circle cx="211.6" cy="263.8" r="1.05"/><circle cx="211.8" cy="265.5" r="1.05"/><circle cx="210.6" cy="270.8" r="1.05"/><circle cx="211.6" cy="278.0" r="1.05"/><circle cx="209.5" cy="284.9" r="1.05"/><circle cx="210.6" cy="297.3" r="1.05"/><circle cx="211.6" cy="304.3" r="1.05"/><circle cx="221.1" cy="241.1" r="1.05"/><circle cx="224.5" cy="278.0" r="1.05"/><circle cx="206.6" cy="325.4" r="1.05"/><circle cx="205.1" cy="327.5" r="1.05"/><circle cx="213.9" cy="325.4" r="1.05"/><circle cx="196.5" cy="336.1" r="1.05"/><circle cx="207.2" cy="336.1" r="1.05"/><circle cx="212.5" cy="337.6" r="1.05"/><circle cx="219.4" cy="337.6" r="1.05"/><circle cx="222.4" cy="330.6" r="1.05"/><circle cx="223.2" cy="332.3" r="1.05"/><circle cx="243.4" cy="329.0" r="1.05"/><circle cx="260.3" cy="336.1" r="1.05"/><circle cx="235.4" cy="223.2" r="1.05"/><circle cx="237.5" cy="223.2" r="1.05"/><circle cx="237.5" cy="224.6" r="1.05"/><circle cx="235.0" cy="235.4" r="1.05"/><circle cx="234.8" cy="239.4" r="1.05"/><circle cx="235.9" cy="263.8" r="1.05"/><circle cx="245.6" cy="223.2" r="1.05"/><circle cx="249.3" cy="224.6" r="1.05"/><circle cx="249.3" cy="228.4" r="1.05"/><circle cx="249.8" cy="232.2" r="1.05"/><circle cx="254.0" cy="221.7" r="1.05"/><circle cx="258.6" cy="221.7" r="1.05"/><circle cx="255.0" cy="230.1" r="1.05"/><circle cx="255.7" cy="232.2" r="1.05"/><circle cx="254.4" cy="233.7" r="1.05"/><circle cx="248.3" cy="237.5" r="1.05"/><circle cx="246.6" cy="239.4" r="1.05"/><circle cx="245.6" cy="241.1" r="1.05"/><circle cx="244.3" cy="242.3" r="1.05"/><circle cx="243.2" cy="244.4" r="1.05"/><circle cx="245.3" cy="244.4" r="1.05"/><circle cx="249.1" cy="244.4" r="1.05"/><circle cx="252.9" cy="239.4" r="1.05"/><circle cx="256.1" cy="241.1" r="1.05"/><circle cx="256.1" cy="246.3" r="1.05"/><circle cx="257.1" cy="248.0" r="1.05"/><circle cx="261.4" cy="241.1" r="1.05"/><circle cx="264.3" cy="237.5" r="1.05"/><circle cx="266.4" cy="241.1" r="1.05"/><circle cx="264.5" cy="246.3" r="1.05"/><circle cx="260.3" cy="251.2" r="1.05"/><circle cx="262.4" cy="253.3" r="1.05"/><circle cx="265.2" cy="251.6" r="1.05"/><circle cx="264.5" cy="256.9" r="1.05"/><circle cx="259.7" cy="258.6" r="1.05"/><circle cx="248.1" cy="258.6" r="1.05"/><circle cx="266.4" cy="265.5" r="1.05"/><circle cx="279.5" cy="241.1" r="1.05"/><circle cx="289.8" cy="241.1" r="1.05"/><circle cx="283.3" cy="230.1" r="1.05"/><circle cx="273.8" cy="272.5" r="1.05"/><circle cx="275.7" cy="278.0" r="1.05"/><circle cx="273.8" cy="284.9" r="1.05"/><circle cx="275.5" cy="304.3" r="1.05"/><circle cx="272.3" cy="318.4" r="1.05"/><circle cx="272.3" cy="323.7" r="1.05"/><circle cx="268.1" cy="325.4" r="1.05"/><circle cx="272.3" cy="329.6" r="1.05"/><circle cx="272.3" cy="331.7" r="1.05"/><circle cx="272.3" cy="334.9" r="1.05"/><circle cx="272.3" cy="337.6" r="1.05"/><circle cx="296.1" cy="253.3" r="1.05"/><circle cx="294.0" cy="263.8" r="1.05"/><circle cx="289.8" cy="267.2" r="1.05"/><circle cx="291.3" cy="268.1" r="1.05"/><circle cx="292.8" cy="269.5" r="1.05"/><circle cx="295.3" cy="269.5" r="1.05"/><circle cx="285.6" cy="272.5" r="1.05"/><circle cx="291.3" cy="274.4" r="1.05"/><circle cx="292.3" cy="276.1" r="1.05"/><circle cx="295.9" cy="272.5" r="1.05"/><circle cx="298.7" cy="272.5" r="1.05"/><circle cx="295.5" cy="279.6" r="1.05"/><circle cx="292.8" cy="281.5" r="1.05"/><circle cx="287.7" cy="283.2" r="1.05"/><circle cx="291.5" cy="284.9" r="1.05"/><circle cx="297.0" cy="290.2" r="1.05"/><circle cx="300.3" cy="290.2" r="1.05"/><circle cx="283.5" cy="295.4" r="1.05"/><circle cx="300.3" cy="300.7" r="1.05"/><circle cx="297.4" cy="315.0" r="1.05"/><circle cx="314.0" cy="221.7" r="1.05"/><circle cx="314.9" cy="224.6" r="1.05"/><circle cx="319.7" cy="224.6" r="1.05"/><circle cx="321.4" cy="226.3" r="1.05"/><circle cx="323.5" cy="224.6" r="1.05"/><circle cx="323.5" cy="230.1" r="1.05"/><circle cx="315.9" cy="235.4" r="1.05"/><circle cx="324.8" cy="235.4" r="1.05"/><circle cx="324.8" cy="237.5" r="1.05"/><circle cx="319.3" cy="258.6" r="1.05"/><circle cx="321.2" cy="269.1" r="1.05"/><circle cx="314.0" cy="272.5" r="1.05"/><circle cx="313.0" cy="279.6" r="1.05"/><circle cx="335.5" cy="241.1" r="1.05"/><circle cx="336.6" cy="242.8" r="1.05"/><circle cx="336.0" cy="248.0" r="1.05"/><circle cx="334.1" cy="251.6" r="1.05"/><circle cx="331.3" cy="292.1" r="1.05"/><circle cx="331.3" cy="302.4" r="1.05"/><circle cx="353.5" cy="235.4" r="1.05"/><circle cx="352.8" cy="242.3" r="1.05"/><circle cx="351.1" cy="246.3" r="1.05"/><circle cx="352.2" cy="251.6" r="1.05"/><circle cx="352.6" cy="256.9" r="1.05"/><circle cx="353.9" cy="262.1" r="1.05"/><circle cx="352.4" cy="263.8" r="1.05"/><circle cx="354.3" cy="284.9" r="1.05"/><circle cx="354.1" cy="293.8" r="1.05"/><circle cx="354.3" cy="299.5" r="1.05"/><circle cx="354.5" cy="309.6" r="1.05"/><circle cx="354.3" cy="316.5" r="1.05"/><circle cx="354.3" cy="318.4" r="1.05"/><circle cx="355.6" cy="327.5" r="1.05"/><circle cx="354.3" cy="329.0" r="1.05"/><circle cx="355.6" cy="334.4" r="1.05"/><circle cx="355.1" cy="337.0" r="1.05"/><circle cx="338.7" cy="339.5" r="1.05"/><circle cx="363.4" cy="306.2" r="1.05"/><circle cx="370.1" cy="226.7" r="1.05"/><circle cx="372.6" cy="233.7" r="1.05"/><circle cx="372.4" cy="244.4" r="1.05"/><circle cx="384.4" cy="237.3" r="1.05"/><circle cx="387.4" cy="228.4" r="1.05"/><circle cx="389.5" cy="223.2" r="1.05"/><circle cx="393.3" cy="230.1" r="1.05"/><circle cx="391.2" cy="246.3" r="1.05"/><circle cx="397.5" cy="223.2" r="1.05"/><circle cx="399.6" cy="221.7" r="1.05"/><circle cx="403.8" cy="221.7" r="1.05"/><circle cx="400.7" cy="230.1" r="1.05"/><circle cx="400.7" cy="235.4" r="1.05"/><circle cx="402.8" cy="235.4" r="1.05"/><circle cx="405.1" cy="244.4" r="1.05"/><circle cx="408.0" cy="226.7" r="1.05"/><circle cx="412.3" cy="224.6" r="1.05"/><circle cx="412.7" cy="226.3" r="1.05"/><circle cx="414.4" cy="232.2" r="1.05"/><circle cx="435.0" cy="223.2" r="1.05"/><circle cx="437.5" cy="228.4" r="1.05"/><circle cx="437.5" cy="241.1" r="1.05"/><circle cx="521.8" cy="228.4" r="1.05"/><circle cx="526.5" cy="260.3" r="1.05"/><circle cx="498.7" cy="269.1" r="1.05"/><circle cx="554.5" cy="256.9" r="1.05"/><circle cx="380.6" cy="295.4" r="1.05"/><circle cx="395.4" cy="302.4" r="1.05"/><circle cx="430.6" cy="297.3" r="1.05"/><circle cx="439.2" cy="311.3" r="1.05"/><circle cx="437.5" cy="313.2" r="1.05"/><circle cx="435.4" cy="316.5" r="1.05"/><circle cx="429.3" cy="318.4" r="1.05"/><circle cx="475.5" cy="307.7" r="1.05"/><circle cx="505.0" cy="307.7" r="1.05"/><circle cx="373.9" cy="336.1" r="1.05"/><circle cx="380.6" cy="337.6" r="1.05"/><circle cx="383.2" cy="334.4" r="1.05"/><circle cx="436.5" cy="334.4" r="1.05"/><circle cx="449.1" cy="325.4" r="1.05"/><circle cx="449.1" cy="328.5" r="1.05"/><circle cx="449.1" cy="331.7" r="1.05"/><circle cx="549.9" cy="286.6" r="1.05"/><circle cx="549.9" cy="297.3" r="1.05"/><circle cx="549.9" cy="300.7" r="1.05"/><circle cx="549.9" cy="309.6" r="1.05"/><circle cx="552.6" cy="315.0" r="1.05"/><circle cx="534.5" cy="307.7" r="1.05"/><circle cx="534.5" cy="311.3" r="1.05"/><circle cx="526.5" cy="315.0" r="1.05"/><circle cx="499.5" cy="329.0" r="1.05"/><circle cx="517.2" cy="329.0" r="1.05"/><circle cx="614.4" cy="233.7" r="1.05"/><circle cx="614.6" cy="240.7" r="1.05"/><circle cx="613.9" cy="244.4" r="1.05"/><circle cx="613.9" cy="246.3" r="1.05"/><circle cx="632.7" cy="224.6" r="1.05"/><circle cx="632.1" cy="233.7" r="1.05"/><circle cx="631.6" cy="239.4" r="1.05"/><circle cx="638.4" cy="249.7" r="1.05"/><circle cx="640.9" cy="249.7" r="1.05"/><circle cx="625.3" cy="258.6" r="1.05"/><circle cx="626.4" cy="262.1" r="1.05"/><circle cx="637.5" cy="260.3" r="1.05"/><circle cx="638.6" cy="262.1" r="1.05"/><circle cx="644.3" cy="260.3" r="1.05"/><circle cx="644.5" cy="262.1" r="1.05"/><circle cx="649.3" cy="260.3" r="1.05"/><circle cx="650.6" cy="255.0" r="1.05"/><circle cx="650.4" cy="262.1" r="1.05"/><circle cx="650.4" cy="265.5" r="1.05"/><circle cx="652.7" cy="269.1" r="1.05"/><circle cx="628.5" cy="272.5" r="1.05"/><circle cx="627.4" cy="274.4" r="1.05"/><circle cx="639.7" cy="272.5" r="1.05"/><circle cx="638.6" cy="276.1" r="1.05"/><circle cx="640.1" cy="276.1" r="1.05"/><circle cx="644.5" cy="274.4" r="1.05"/><circle cx="640.3" cy="279.6" r="1.05"/><circle cx="642.2" cy="279.6" r="1.05"/><circle cx="620.1" cy="278.0" r="1.05"/><circle cx="621.7" cy="281.3" r="1.05"/><circle cx="623.2" cy="281.3" r="1.05"/><circle cx="624.5" cy="281.3" r="1.05"/><circle cx="619.2" cy="283.2" r="1.05"/><circle cx="620.7" cy="283.2" r="1.05"/><circle cx="622.2" cy="283.2" r="1.05"/><circle cx="619.6" cy="286.6" r="1.05"/><circle cx="621.1" cy="286.6" r="1.05"/><circle cx="622.4" cy="286.6" r="1.05"/><circle cx="624.9" cy="286.6" r="1.05"/><circle cx="620.1" cy="290.2" r="1.05"/><circle cx="621.7" cy="288.5" r="1.05"/><circle cx="624.1" cy="292.1" r="1.05"/><circle cx="617.1" cy="295.4" r="1.05"/><circle cx="611.4" cy="283.2" r="1.05"/><circle cx="595.0" cy="283.2" r="1.05"/><circle cx="606.4" cy="292.1" r="1.05"/><circle cx="594.8" cy="299.5" r="1.05"/><circle cx="606.6" cy="300.7" r="1.05"/><circle cx="604.9" cy="304.3" r="1.05"/><circle cx="606.6" cy="304.3" r="1.05"/><circle cx="604.5" cy="316.5" r="1.05"/><circle cx="595.4" cy="316.5" r="1.05"/><circle cx="617.5" cy="311.3" r="1.05"/><circle cx="636.5" cy="290.2" r="1.05"/><circle cx="640.3" cy="290.2" r="1.05"/><circle cx="635.9" cy="295.4" r="1.05"/><circle cx="644.3" cy="292.1" r="1.05"/><circle cx="647.5" cy="284.9" r="1.05"/><circle cx="647.5" cy="286.6" r="1.05"/><circle cx="648.1" cy="297.3" r="1.05"/><circle cx="646.2" cy="300.7" r="1.05"/><circle cx="647.5" cy="306.2" r="1.05"/><circle cx="648.5" cy="313.2" r="1.05"/><circle cx="630.4" cy="299.5" r="1.05"/><circle cx="630.4" cy="311.3" r="1.05"/><circle cx="629.5" cy="325.4" r="1.05"/><circle cx="633.5" cy="323.7" r="1.05"/><circle cx="624.3" cy="334.2" r="1.05"/><circle cx="652.3" cy="295.4" r="1.05"/><circle cx="654.8" cy="295.4" r="1.05"/><circle cx="656.9" cy="286.6" r="1.05"/><circle cx="656.5" cy="290.2" r="1.05"/><circle cx="657.6" cy="293.8" r="1.05"/><circle cx="657.6" cy="295.4" r="1.05"/><circle cx="657.6" cy="297.3" r="1.05"/><circle cx="659.3" cy="223.2" r="1.05"/><circle cx="660.1" cy="226.7" r="1.05"/><circle cx="673.4" cy="223.2" r="1.05"/><circle cx="674.0" cy="226.7" r="1.05"/><circle cx="678.2" cy="221.7" r="1.05"/><circle cx="680.3" cy="223.2" r="1.05"/><circle cx="682.0" cy="228.4" r="1.05"/><circle cx="684.3" cy="228.4" r="1.05"/><circle cx="669.8" cy="233.7" r="1.05"/><circle cx="670.6" cy="235.4" r="1.05"/><circle cx="678.4" cy="233.7" r="1.05"/><circle cx="673.0" cy="248.0" r="1.05"/><circle cx="678.2" cy="246.3" r="1.05"/><circle cx="672.7" cy="272.5" r="1.05"/><circle cx="673.4" cy="300.7" r="1.05"/><circle cx="674.4" cy="313.2" r="1.05"/><circle cx="675.5" cy="327.5" r="1.05"/><circle cx="665.6" cy="327.5" r="1.05"/><circle cx="699.3" cy="228.4" r="1.05"/><circle cx="691.5" cy="244.4" r="1.05"/><circle cx="706.7" cy="246.3" r="1.05"/><circle cx="707.1" cy="248.0" r="1.05"/><circle cx="697.0" cy="265.5" r="1.05"/><circle cx="703.5" cy="267.4" r="1.05"/><circle cx="695.1" cy="276.1" r="1.05"/><circle cx="693.0" cy="283.2" r="1.05"/><circle cx="709.6" cy="293.8" r="1.05"/><circle cx="699.5" cy="320.3" r="1.05"/><circle cx="699.5" cy="337.6" r="1.05"/><circle cx="728.2" cy="223.2" r="1.05"/><circle cx="737.2" cy="228.4" r="1.05"/><circle cx="741.4" cy="228.4" r="1.05"/><circle cx="726.5" cy="233.7" r="1.05"/><circle cx="728.6" cy="237.5" r="1.05"/><circle cx="730.5" cy="237.5" r="1.05"/><circle cx="734.5" cy="237.5" r="1.05"/><circle cx="740.2" cy="237.5" r="1.05"/><circle cx="741.4" cy="237.5" r="1.05"/><circle cx="745.7" cy="233.7" r="1.05"/><circle cx="746.1" cy="241.1" r="1.05"/><circle cx="733.0" cy="241.1" r="1.05"/><circle cx="735.1" cy="242.8" r="1.05"/><circle cx="738.3" cy="241.1" r="1.05"/><circle cx="722.9" cy="244.4" r="1.05"/><circle cx="726.5" cy="246.3" r="1.05"/><circle cx="730.5" cy="246.3" r="1.05"/><circle cx="730.5" cy="248.0" r="1.05"/><circle cx="741.7" cy="248.0" r="1.05"/><circle cx="742.9" cy="246.3" r="1.05"/><circle cx="744.6" cy="246.3" r="1.05"/><circle cx="740.4" cy="251.6" r="1.05"/><circle cx="736.0" cy="255.0" r="1.05"/><circle cx="737.9" cy="255.0" r="1.05"/><circle cx="739.8" cy="258.6" r="1.05"/><circle cx="744.6" cy="258.6" r="1.05"/><circle cx="747.8" cy="256.9" r="1.05"/><circle cx="739.3" cy="263.8" r="1.05"/><circle cx="736.4" cy="267.4" r="1.05"/><circle cx="742.1" cy="270.8" r="1.05"/><circle cx="746.7" cy="270.8" r="1.05"/><circle cx="747.8" cy="274.4" r="1.05"/><circle cx="742.7" cy="278.0" r="1.05"/><circle cx="749.7" cy="281.3" r="1.05"/><circle cx="750.9" cy="290.2" r="1.05"/><circle cx="752.0" cy="306.2" r="1.05"/><circle cx="722.5" cy="258.6" r="1.05"/><circle cx="722.5" cy="272.5" r="1.05"/><circle cx="722.5" cy="281.3" r="1.05"/><circle cx="722.5" cy="286.6" r="1.05"/><circle cx="723.5" cy="304.3" r="1.05"/><circle cx="722.9" cy="325.4" r="1.05"/><circle cx="724.4" cy="329.0" r="1.05"/><circle cx="723.5" cy="332.8" r="1.05"/><circle cx="715.5" cy="327.5" r="1.05"/><circle cx="745.0" cy="332.8" r="1.05"/><circle cx="175.8" cy="449.7" r="1.05"/><circle cx="174.3" cy="451.6" r="1.05"/><circle cx="179.2" cy="457.5" r="1.05"/><circle cx="182.3" cy="456.2" r="1.05"/><circle cx="177.3" cy="463.0" r="1.05"/><circle cx="182.8" cy="463.0" r="1.05"/><circle cx="182.3" cy="466.4" r="1.05"/><circle cx="188.0" cy="466.4" r="1.05"/><circle cx="189.1" cy="468.5" r="1.05"/><circle cx="181.7" cy="471.6" r="1.05"/><circle cx="181.7" cy="475.4" r="1.05"/><circle cx="182.3" cy="482.4" r="1.05"/><circle cx="189.3" cy="482.4" r="1.05"/><circle cx="183.2" cy="445.5" r="1.05"/><circle cx="187.0" cy="445.5" r="1.05"/><circle cx="189.1" cy="445.5" r="1.05"/><circle cx="183.8" cy="449.5" r="1.05"/><circle cx="185.5" cy="449.5" r="1.05"/><circle cx="204.9" cy="450.6" r="1.05"/><circle cx="206.6" cy="450.6" r="1.05"/><circle cx="209.5" cy="454.1" r="1.05"/><circle cx="207.4" cy="441.1" r="1.05"/><circle cx="211.6" cy="442.8" r="1.05"/><circle cx="211.6" cy="445.5" r="1.05"/><circle cx="211.2" cy="449.1" r="1.05"/><circle cx="224.5" cy="438.5" r="1.05"/><circle cx="236.1" cy="428.9" r="1.05"/><circle cx="236.1" cy="431.0" r="1.05"/><circle cx="244.5" cy="436.4" r="1.05"/><circle cx="243.2" cy="438.5" r="1.05"/><circle cx="255.2" cy="440.2" r="1.05"/><circle cx="266.2" cy="441.5" r="1.05"/><circle cx="273.8" cy="441.5" r="1.05"/><circle cx="261.8" cy="426.3" r="1.05"/><circle cx="261.8" cy="428.4" r="1.05"/><circle cx="260.3" cy="456.2" r="1.05"/><circle cx="275.5" cy="457.9" r="1.05"/><circle cx="275.5" cy="459.6" r="1.05"/><circle cx="273.8" cy="468.5" r="1.05"/><circle cx="283.5" cy="473.5" r="1.05"/><circle cx="287.3" cy="454.1" r="1.05"/><circle cx="287.3" cy="487.9" r="1.05"/><circle cx="297.4" cy="463.0" r="1.05"/><circle cx="299.5" cy="466.4" r="1.05"/><circle cx="286.7" cy="438.5" r="1.05"/><circle cx="318.5" cy="438.5" r="1.05"/><circle cx="321.0" cy="456.2" r="1.05"/><circle cx="331.3" cy="457.9" r="1.05"/><circle cx="331.3" cy="459.6" r="1.05"/><circle cx="341.4" cy="440.2" r="1.05"/><circle cx="341.4" cy="450.6" r="1.05"/><circle cx="325.6" cy="422.5" r="1.05"/><circle cx="333.4" cy="422.5" r="1.05"/><circle cx="354.3" cy="438.5" r="1.05"/><circle cx="354.3" cy="443.2" r="1.05"/><circle cx="354.3" cy="445.5" r="1.05"/><circle cx="354.3" cy="449.1" r="1.05"/><circle cx="354.3" cy="452.7" r="1.05"/><circle cx="354.3" cy="456.2" r="1.05"/><circle cx="350.5" cy="433.7" r="1.05"/><circle cx="350.5" cy="436.4" r="1.05"/><circle cx="366.1" cy="434.8" r="1.05"/><circle cx="366.1" cy="438.5" r="1.05"/><circle cx="366.1" cy="440.2" r="1.05"/><circle cx="363.6" cy="434.8" r="1.05"/><circle cx="373.5" cy="433.3" r="1.05"/><circle cx="380.6" cy="434.8" r="1.05"/><circle cx="383.4" cy="422.5" r="1.05"/><circle cx="383.4" cy="426.3" r="1.05"/><circle cx="383.4" cy="459.4" r="1.05"/><circle cx="401.7" cy="420.8" r="1.05"/><circle cx="395.0" cy="447.4" r="1.05"/><circle cx="395.0" cy="449.9" r="1.05"/><circle cx="395.0" cy="452.0" r="1.05"/><circle cx="395.0" cy="454.1" r="1.05"/><circle cx="429.3" cy="433.3" r="1.05"/><circle cx="430.6" cy="449.1" r="1.05"/><circle cx="436.5" cy="452.5" r="1.05"/><circle cx="439.7" cy="425.9" r="1.05"/><circle cx="447.5" cy="428.0" r="1.05"/><circle cx="447.5" cy="450.6" r="1.05"/><circle cx="454.2" cy="431.4" r="1.05"/><circle cx="491.3" cy="431.4" r="1.05"/><circle cx="498.9" cy="438.5" r="1.05"/><circle cx="522.5" cy="422.5" r="1.05"/><circle cx="524.4" cy="422.5" r="1.05"/><circle cx="526.1" cy="443.6" r="1.05"/><circle cx="524.6" cy="450.6" r="1.05"/><circle cx="548.4" cy="431.4" r="1.05"/><circle cx="549.9" cy="431.4" r="1.05"/><circle cx="550.3" cy="447.0" r="1.05"/><circle cx="548.8" cy="449.1" r="1.05"/><circle cx="553.5" cy="449.1" r="1.05"/><circle cx="553.0" cy="422.5" r="1.05"/><circle cx="554.5" cy="424.2" r="1.05"/><circle cx="563.6" cy="425.9" r="1.05"/><circle cx="571.4" cy="431.4" r="1.05"/><circle cx="571.4" cy="434.8" r="1.05"/><circle cx="580.2" cy="422.5" r="1.05"/><circle cx="580.2" cy="434.8" r="1.05"/><circle cx="595.4" cy="424.2" r="1.05"/><circle cx="595.4" cy="434.8" r="1.05"/><circle cx="604.5" cy="470.2" r="1.05"/><circle cx="614.6" cy="466.4" r="1.05"/><circle cx="624.3" cy="463.0" r="1.05"/><circle cx="630.4" cy="459.4" r="1.05"/><circle cx="629.1" cy="466.4" r="1.05"/><circle cx="634.4" cy="463.0" r="1.05"/><circle cx="634.4" cy="470.2" r="1.05"/><circle cx="643.4" cy="468.3" r="1.05"/><circle cx="624.5" cy="477.1" r="1.05"/><circle cx="630.4" cy="480.7" r="1.05"/><circle cx="635.0" cy="477.1" r="1.05"/><circle cx="646.4" cy="478.6" r="1.05"/><circle cx="648.3" cy="480.7" r="1.05"/><circle cx="643.4" cy="445.5" r="1.05"/><circle cx="646.6" cy="447.4" r="1.05"/><circle cx="658.6" cy="447.4" r="1.05"/><circle cx="662.4" cy="450.6" r="1.05"/><circle cx="662.4" cy="454.1" r="1.05"/><circle cx="665.6" cy="441.9" r="1.05"/><circle cx="673.4" cy="441.9" r="1.05"/><circle cx="674.4" cy="456.2" r="1.05"/><circle cx="673.4" cy="461.3" r="1.05"/><circle cx="673.4" cy="431.4" r="1.05"/><circle cx="673.4" cy="434.8" r="1.05"/><circle cx="709.8" cy="443.6" r="1.05"/><circle cx="720.6" cy="457.5" r="1.05"/><circle cx="721.4" cy="470.2" r="1.05"/><circle cx="721.4" cy="493.1" r="1.05"/><circle cx="720.6" cy="503.7" r="1.05"/><circle cx="724.6" cy="428.0" r="1.05"/><circle cx="738.7" cy="431.4" r="1.05"/><circle cx="738.7" cy="436.4" r="1.05"/><circle cx="742.9" cy="433.3" r="1.05"/><circle cx="745.0" cy="443.6" r="1.05"/><circle cx="745.0" cy="456.2" r="1.05"/><circle cx="747.3" cy="440.2" r="1.05"/><circle cx="752.4" cy="450.6" r="1.05"/><circle cx="752.4" cy="452.7" r="1.05"/><circle cx="175.5" cy="350.0" r="1.05"/><circle cx="175.5" cy="373.3" r="1.05"/><circle cx="173.6" cy="387.3" r="1.05"/><circle cx="182.5" cy="382.1" r="1.05"/><circle cx="190.0" cy="353.2" r="1.05"/><circle cx="196.3" cy="342.9" r="1.05"/><circle cx="207.1" cy="344.8" r="1.05"/><circle cx="200.6" cy="360.6" r="1.05"/><circle cx="248.5" cy="353.2" r="1.05"/><circle cx="251.9" cy="350.4" r="1.05"/><circle cx="255.2" cy="355.6" r="1.05"/><circle cx="320.9" cy="341.4" r="1.05"/><circle cx="318.6" cy="348.1" r="1.05"/><circle cx="369.8" cy="365.3" r="1.05"/><circle cx="369.8" cy="371.3" r="1.05"/><circle cx="377.3" cy="401.6" r="1.05"/><circle cx="447.2" cy="399.4" r="1.05"/><circle cx="475.7" cy="410.0" r="1.05"/><circle cx="505.0" cy="417.5" r="1.05"/><circle cx="595.0" cy="385.8" r="1.05"/><circle cx="549.3" cy="381.1" r="1.05"/><circle cx="563.3" cy="381.1" r="1.05"/><circle cx="563.3" cy="389.5" r="1.05"/><circle cx="574.5" cy="380.2" r="1.05"/><circle cx="535.3" cy="374.6" r="1.05"/><circle cx="535.3" cy="382.0" r="1.05"/><circle cx="535.3" cy="386.7" r="1.05"/><circle cx="617.3" cy="350.3" r="1.05"/><circle cx="617.3" cy="359.3" r="1.05"/><circle cx="617.3" cy="365.2" r="1.05"/><circle cx="617.3" cy="370.8" r="1.05"/><circle cx="632.2" cy="359.3" r="1.05"/><circle cx="603.7" cy="354.1" r="1.05"/><circle cx="607.5" cy="350.3" r="1.05"/><circle cx="607.5" cy="356.9" r="1.05"/><circle cx="630.8" cy="370.8" r="1.05"/><circle cx="673.4" cy="346.2" r="1.05"/><circle cx="595.2" cy="408.4" r="1.05"/><circle cx="604.5" cy="408.4" r="1.05"/><circle cx="695.3" cy="378.3" r="1.05"/><circle cx="738.6" cy="352.2" r="1.05"/><circle cx="738.6" cy="364.0" r="1.05"/><circle cx="744.7" cy="360.8" r="1.05"/><circle cx="745.7" cy="368.6" r="1.05"/><circle cx="745.7" cy="374.2" r="1.05"/><circle cx="737.3" cy="374.2" r="1.05"/><circle cx="181.5" cy="397.1" r="1.05"/><circle cx="181.6" cy="394.1" r="1.05"/><circle cx="181.1" cy="392.1" r="1.05"/><circle cx="181.6" cy="389.3" r="1.05"/><circle cx="181.3" cy="440.3" r="1.05"/><circle cx="187.8" cy="439.9" r="1.05"/><circle cx="189.1" cy="386.8" r="1.05"/><circle cx="195.6" cy="358.7" r="1.05"/><circle cx="198.2" cy="392.7" r="1.05"/><circle cx="203.4" cy="372.1" r="1.05"/><circle cx="204.7" cy="370.6" r="1.05"/><circle cx="208.6" cy="362.1" r="1.05"/><circle cx="209.8" cy="404.2" r="1.05"/><circle cx="209.9" cy="407.0" r="1.05"/><circle cx="209.9" cy="410.3" r="1.05"/><circle cx="210.0" cy="412.7" r="1.05"/><circle cx="209.7" cy="416.3" r="1.05"/><circle cx="209.6" cy="419.7" r="1.05"/><circle cx="209.7" cy="422.1" r="1.05"/><circle cx="210.2" cy="425.3" r="1.05"/><circle cx="210.9" cy="402.1" r="1.05"/><circle cx="211.0" cy="405.5" r="1.05"/><circle cx="211.0" cy="407.6" r="1.05"/><circle cx="211.1" cy="411.1" r="1.05"/><circle cx="210.9" cy="413.3" r="1.05"/><circle cx="211.3" cy="415.4" r="1.05"/><circle cx="211.3" cy="418.4" r="1.05"/><circle cx="210.9" cy="421.5" r="1.05"/><circle cx="211.1" cy="424.5" r="1.05"/><circle cx="211.4" cy="427.8" r="1.05"/><circle cx="210.9" cy="431.2" r="1.05"/><circle cx="211.4" cy="434.6" r="1.05"/><circle cx="211.0" cy="438.1" r="1.05"/><circle cx="211.0" cy="440.5" r="1.05"/><circle cx="211.4" cy="442.5" r="1.05"/><circle cx="214.0" cy="401.7" r="1.05"/><circle cx="213.8" cy="403.9" r="1.05"/><circle cx="214.0" cy="406.5" r="1.05"/><circle cx="214.1" cy="408.9" r="1.05"/><circle cx="213.6" cy="411.4" r="1.05"/><circle cx="213.8" cy="414.5" r="1.05"/><circle cx="220.5" cy="394.6" r="1.05"/><circle cx="220.4" cy="397.7" r="1.05"/><circle cx="220.2" cy="400.4" r="1.05"/><circle cx="220.1" cy="403.4" r="1.05"/><circle cx="220.5" cy="406.1" r="1.05"/><circle cx="220.4" cy="409.2" r="1.05"/><circle cx="220.3" cy="411.6" r="1.05"/><circle cx="220.4" cy="414.4" r="1.05"/><circle cx="220.4" cy="417.0" r="1.05"/><circle cx="220.1" cy="420.5" r="1.05"/><circle cx="220.5" cy="423.5" r="1.05"/><circle cx="228.1" cy="330.2" r="1.05"/><circle cx="236.2" cy="405.9" r="1.05"/><circle cx="235.9" cy="409.4" r="1.05"/><circle cx="235.7" cy="412.1" r="1.05"/><circle cx="235.7" cy="415.1" r="1.05"/><circle cx="235.6" cy="417.4" r="1.05"/><circle cx="236.0" cy="419.4" r="1.05"/><circle cx="236.2" cy="421.6" r="1.05"/><circle cx="237.3" cy="409.2" r="1.05"/><circle cx="236.9" cy="412.5" r="1.05"/><circle cx="237.3" cy="415.0" r="1.05"/><circle cx="237.4" cy="417.2" r="1.05"/><circle cx="236.9" cy="420.0" r="1.05"/><circle cx="238.5" cy="340.7" r="1.05"/><circle cx="241.0" cy="356.1" r="1.05"/><circle cx="241.2" cy="353.9" r="1.05"/><circle cx="240.9" cy="350.7" r="1.05"/><circle cx="241.0" cy="347.7" r="1.05"/><circle cx="240.8" cy="344.9" r="1.05"/><circle cx="241.4" cy="342.8" r="1.05"/><circle cx="241.1" cy="339.5" r="1.05"/><circle cx="241.0" cy="336.5" r="1.05"/><circle cx="242.5" cy="354.1" r="1.05"/><circle cx="242.4" cy="351.5" r="1.05"/><circle cx="242.7" cy="349.2" r="1.05"/><circle cx="242.2" cy="345.6" r="1.05"/><circle cx="247.6" cy="421.1" r="1.05"/><circle cx="251.5" cy="363.0" r="1.05"/><circle cx="251.4" cy="360.2" r="1.05"/><circle cx="251.4" cy="358.0" r="1.05"/><circle cx="251.6" cy="355.8" r="1.05"/><circle cx="251.5" cy="359.5" r="1.05"/><circle cx="252.9" cy="363.5" r="1.05"/><circle cx="252.8" cy="360.9" r="1.05"/><circle cx="252.8" cy="358.8" r="1.05"/><circle cx="258.0" cy="357.9" r="1.05"/><circle cx="264.5" cy="362.7" r="1.05"/><circle cx="271.1" cy="364.5" r="1.05"/><circle cx="270.9" cy="361.5" r="1.05"/><circle cx="271.1" cy="358.8" r="1.05"/><circle cx="270.8" cy="355.7" r="1.05"/><circle cx="270.9" cy="352.3" r="1.05"/><circle cx="270.8" cy="349.3" r="1.05"/><circle cx="271.2" cy="347.1" r="1.05"/><circle cx="271.1" cy="344.0" r="1.05"/><circle cx="270.7" cy="341.9" r="1.05"/><circle cx="271.0" cy="355.6" r="1.05"/><circle cx="272.4" cy="362.4" r="1.05"/><circle cx="272.1" cy="360.4" r="1.05"/><circle cx="272.5" cy="358.2" r="1.05"/><circle cx="272.5" cy="355.8" r="1.05"/><circle cx="272.1" cy="352.6" r="1.05"/><circle cx="272.2" cy="349.5" r="1.05"/><circle cx="272.5" cy="346.3" r="1.05"/><circle cx="272.1" cy="343.9" r="1.05"/><circle cx="272.3" cy="340.4" r="1.05"/><circle cx="272.4" cy="336.9" r="1.05"/><circle cx="272.5" cy="333.7" r="1.05"/><circle cx="273.5" cy="362.4" r="1.05"/><circle cx="273.4" cy="359.8" r="1.05"/><circle cx="273.4" cy="357.3" r="1.05"/><circle cx="273.7" cy="354.1" r="1.05"/><circle cx="273.4" cy="351.7" r="1.05"/><circle cx="273.6" cy="348.9" r="1.05"/><circle cx="273.5" cy="345.4" r="1.05"/><circle cx="273.8" cy="342.9" r="1.05"/><circle cx="273.6" cy="340.7" r="1.05"/><circle cx="273.8" cy="338.2" r="1.05"/><circle cx="273.8" cy="335.3" r="1.05"/><circle cx="273.7" cy="333.0" r="1.05"/><circle cx="277.5" cy="418.4" r="1.05"/><circle cx="283.7" cy="366.1" r="1.05"/><circle cx="283.9" cy="363.7" r="1.05"/><circle cx="284.1" cy="361.7" r="1.05"/><circle cx="286.6" cy="432.6" r="1.05"/><circle cx="291.8" cy="385.7" r="1.05"/><circle cx="294.4" cy="392.5" r="1.05"/><circle cx="299.5" cy="432.1" r="1.05"/><circle cx="299.9" cy="435.5" r="1.05"/><circle cx="299.4" cy="438.5" r="1.05"/><circle cx="303.5" cy="391.7" r="1.05"/><circle cx="311.5" cy="418.9" r="1.05"/><circle cx="311.4" cy="421.7" r="1.05"/><circle cx="311.5" cy="425.0" r="1.05"/><circle cx="311.0" cy="428.4" r="1.05"/><circle cx="311.5" cy="431.0" r="1.05"/><circle cx="311.1" cy="434.3" r="1.05"/><circle cx="311.3" cy="419.1" r="1.05"/><circle cx="312.4" cy="418.8" r="1.05"/><circle cx="312.4" cy="422.2" r="1.05"/><circle cx="312.8" cy="425.2" r="1.05"/><circle cx="312.6" cy="427.5" r="1.05"/><circle cx="312.7" cy="430.8" r="1.05"/><circle cx="312.3" cy="433.4" r="1.05"/><circle cx="312.5" cy="436.1" r="1.05"/><circle cx="317.8" cy="417.3" r="1.05"/><circle cx="333.6" cy="405.1" r="1.05"/><circle cx="333.5" cy="407.2" r="1.05"/><circle cx="333.2" cy="409.8" r="1.05"/><circle cx="333.5" cy="413.3" r="1.05"/><circle cx="334.5" cy="408.0" r="1.05"/><circle cx="334.7" cy="410.3" r="1.05"/><circle cx="334.7" cy="412.7" r="1.05"/><circle cx="334.8" cy="416.2" r="1.05"/><circle cx="335.8" cy="402.8" r="1.05"/><circle cx="336.0" cy="406.1" r="1.05"/><circle cx="336.0" cy="409.1" r="1.05"/><circle cx="335.8" cy="411.6" r="1.05"/><circle cx="336.2" cy="414.2" r="1.05"/><circle cx="335.9" cy="417.1" r="1.05"/><circle cx="335.9" cy="419.3" r="1.05"/><circle cx="336.0" cy="422.4" r="1.05"/><circle cx="337.5" cy="407.9" r="1.05"/><circle cx="337.5" cy="410.9" r="1.05"/><circle cx="337.3" cy="413.5" r="1.05"/><circle cx="337.3" cy="417.0" r="1.05"/><circle cx="337.1" cy="420.6" r="1.05"/><circle cx="338.6" cy="406.8" r="1.05"/><circle cx="338.9" cy="409.4" r="1.05"/><circle cx="338.8" cy="411.5" r="1.05"/><circle cx="350.6" cy="396.4" r="1.05"/><circle cx="350.6" cy="399.6" r="1.05"/><circle cx="350.4" cy="403.1" r="1.05"/><circle cx="350.0" cy="406.2" r="1.05"/><circle cx="350.0" cy="408.5" r="1.05"/><circle cx="350.4" cy="411.9" r="1.05"/><circle cx="350.2" cy="414.9" r="1.05"/><circle cx="350.1" cy="417.5" r="1.05"/><circle cx="350.6" cy="420.5" r="1.05"/><circle cx="350.0" cy="423.0" r="1.05"/><circle cx="350.2" cy="425.3" r="1.05"/><circle cx="350.5" cy="428.7" r="1.05"/><circle cx="351.6" cy="358.7" r="1.05"/><circle cx="352.7" cy="399.4" r="1.05"/><circle cx="353.1" cy="401.8" r="1.05"/><circle cx="352.7" cy="404.4" r="1.05"/><circle cx="352.7" cy="407.3" r="1.05"/><circle cx="352.9" cy="409.7" r="1.05"/><circle cx="353.0" cy="412.6" r="1.05"/><circle cx="352.9" cy="415.7" r="1.05"/><circle cx="353.0" cy="417.8" r="1.05"/><circle cx="352.9" cy="419.9" r="1.05"/><circle cx="354.3" cy="396.5" r="1.05"/><circle cx="354.1" cy="400.0" r="1.05"/><circle cx="353.9" cy="402.2" r="1.05"/><circle cx="354.0" cy="405.4" r="1.05"/><circle cx="354.3" cy="409.0" r="1.05"/><circle cx="354.4" cy="411.3" r="1.05"/><circle cx="354.2" cy="413.6" r="1.05"/><circle cx="354.4" cy="415.7" r="1.05"/><circle cx="359.4" cy="343.1" r="1.05"/><circle cx="363.3" cy="405.5" r="1.05"/><circle cx="364.4" cy="403.1" r="1.05"/><circle cx="364.3" cy="405.2" r="1.05"/><circle cx="364.4" cy="408.5" r="1.05"/><circle cx="364.5" cy="412.1" r="1.05"/><circle cx="364.4" cy="415.2" r="1.05"/><circle cx="364.6" cy="342.7" r="1.05"/><circle cx="365.7" cy="410.3" r="1.05"/><circle cx="365.8" cy="412.4" r="1.05"/><circle cx="366.2" cy="415.1" r="1.05"/><circle cx="365.6" cy="418.0" r="1.05"/><circle cx="366.0" cy="420.4" r="1.05"/><circle cx="366.1" cy="423.3" r="1.05"/><circle cx="368.5" cy="360.2" r="1.05"/><circle cx="372.6" cy="414.7" r="1.05"/><circle cx="372.7" cy="418.1" r="1.05"/><circle cx="372.1" cy="420.4" r="1.05"/><circle cx="372.4" cy="423.9" r="1.05"/><circle cx="372.5" cy="426.2" r="1.05"/><circle cx="373.5" cy="412.9" r="1.05"/><circle cx="373.4" cy="415.3" r="1.05"/><circle cx="373.6" cy="417.5" r="1.05"/><circle cx="373.4" cy="420.2" r="1.05"/><circle cx="374.0" cy="423.1" r="1.05"/><circle cx="381.5" cy="349.7" r="1.05"/><circle cx="381.4" cy="346.7" r="1.05"/><circle cx="381.8" cy="344.6" r="1.05"/><circle cx="381.3" cy="341.2" r="1.05"/><circle cx="382.9" cy="412.0" r="1.05"/><circle cx="383.0" cy="415.4" r="1.05"/><circle cx="383.1" cy="418.2" r="1.05"/><circle cx="384.0" cy="409.6" r="1.05"/><circle cx="384.0" cy="412.2" r="1.05"/><circle cx="384.0" cy="414.8" r="1.05"/><circle cx="384.0" cy="356.8" r="1.05"/><circle cx="384.3" cy="353.8" r="1.05"/><circle cx="383.9" cy="350.6" r="1.05"/><circle cx="384.3" cy="347.1" r="1.05"/><circle cx="384.2" cy="343.6" r="1.05"/><circle cx="393.1" cy="417.4" r="1.05"/><circle cx="393.5" cy="420.7" r="1.05"/><circle cx="393.5" cy="422.8" r="1.05"/><circle cx="393.0" cy="425.5" r="1.05"/><circle cx="393.4" cy="427.6" r="1.05"/><circle cx="394.6" cy="419.5" r="1.05"/><circle cx="394.3" cy="421.7" r="1.05"/><circle cx="394.6" cy="423.8" r="1.05"/><circle cx="394.4" cy="427.4" r="1.05"/><circle cx="394.5" cy="429.9" r="1.05"/><circle cx="394.6" cy="432.5" r="1.05"/><circle cx="394.3" cy="435.1" r="1.05"/><circle cx="394.5" cy="438.5" r="1.05"/><circle cx="394.7" cy="440.5" r="1.05"/><circle cx="394.4" cy="443.7" r="1.05"/><circle cx="394.5" cy="419.7" r="1.05"/><circle cx="396.0" cy="417.4" r="1.05"/><circle cx="395.8" cy="420.0" r="1.05"/><circle cx="395.9" cy="423.5" r="1.05"/><circle cx="395.7" cy="426.2" r="1.05"/><circle cx="395.9" cy="428.8" r="1.05"/><circle cx="395.7" cy="432.1" r="1.05"/><circle cx="395.7" cy="434.7" r="1.05"/><circle cx="396.0" cy="437.3" r="1.05"/><circle cx="395.7" cy="440.1" r="1.05"/><circle cx="396.0" cy="442.7" r="1.05"/><circle cx="395.9" cy="444.9" r="1.05"/><circle cx="402.3" cy="362.3" r="1.05"/><circle cx="403.6" cy="434.1" r="1.05"/><circle cx="425.7" cy="361.0" r="1.05"/><circle cx="433.6" cy="395.3" r="1.05"/><circle cx="433.4" cy="398.1" r="1.05"/><circle cx="433.5" cy="400.5" r="1.05"/><circle cx="433.7" cy="403.6" r="1.05"/><circle cx="433.7" cy="407.0" r="1.05"/><circle cx="433.5" cy="409.7" r="1.05"/><circle cx="433.8" cy="412.2" r="1.05"/><circle cx="433.3" cy="414.5" r="1.05"/><circle cx="433.8" cy="416.9" r="1.05"/><circle cx="433.4" cy="420.3" r="1.05"/><circle cx="434.7" cy="393.4" r="1.05"/><circle cx="435.0" cy="395.7" r="1.05"/><circle cx="434.6" cy="399.2" r="1.05"/><circle cx="434.8" cy="402.1" r="1.05"/><circle cx="434.5" cy="404.6" r="1.05"/><circle cx="434.9" cy="407.1" r="1.05"/><circle cx="434.8" cy="410.1" r="1.05"/><circle cx="434.6" cy="412.3" r="1.05"/><circle cx="434.7" cy="414.8" r="1.05"/><circle cx="435.0" cy="417.4" r="1.05"/><circle cx="435.1" cy="419.6" r="1.05"/><circle cx="435.0" cy="422.0" r="1.05"/><circle cx="434.9" cy="424.3" r="1.05"/><circle cx="434.5" cy="426.9" r="1.05"/><circle cx="435.0" cy="430.2" r="1.05"/><circle cx="435.0" cy="432.7" r="1.05"/><circle cx="435.1" cy="435.4" r="1.05"/><circle cx="436.4" cy="394.6" r="1.05"/><circle cx="436.1" cy="396.9" r="1.05"/><circle cx="436.0" cy="399.7" r="1.05"/><circle cx="435.9" cy="403.0" r="1.05"/><circle cx="436.0" cy="406.4" r="1.05"/><circle cx="436.2" cy="409.0" r="1.05"/><circle cx="436.0" cy="411.9" r="1.05"/><circle cx="436.4" cy="414.0" r="1.05"/><circle cx="435.9" cy="416.6" r="1.05"/><circle cx="436.1" cy="419.6" r="1.05"/><circle cx="436.0" cy="422.2" r="1.05"/><circle cx="436.0" cy="425.5" r="1.05"/><circle cx="436.4" cy="428.2" r="1.05"/><circle cx="436.0" cy="430.8" r="1.05"/><circle cx="436.2" cy="433.0" r="1.05"/><circle cx="436.1" cy="436.1" r="1.05"/><circle cx="435.9" cy="438.7" r="1.05"/><circle cx="437.4" cy="394.1" r="1.05"/><circle cx="437.2" cy="397.1" r="1.05"/><circle cx="437.5" cy="399.6" r="1.05"/><circle cx="437.5" cy="402.5" r="1.05"/><circle cx="437.4" cy="405.7" r="1.05"/><circle cx="437.4" cy="408.1" r="1.05"/><circle cx="437.4" cy="411.4" r="1.05"/><circle cx="437.3" cy="414.6" r="1.05"/><circle cx="437.7" cy="417.3" r="1.05"/><circle cx="437.5" cy="420.6" r="1.05"/><circle cx="437.5" cy="422.8" r="1.05"/><circle cx="437.7" cy="424.9" r="1.05"/><circle cx="441.3" cy="339.4" r="1.05"/><circle cx="446.5" cy="391.4" r="1.05"/><circle cx="447.8" cy="385.1" r="1.05"/><circle cx="453.0" cy="383.8" r="1.05"/><circle cx="452.8" cy="385.8" r="1.05"/><circle cx="452.7" cy="388.2" r="1.05"/><circle cx="452.8" cy="390.3" r="1.05"/><circle cx="452.8" cy="393.2" r="1.05"/><circle cx="453.0" cy="396.5" r="1.05"/><circle cx="452.8" cy="398.9" r="1.05"/><circle cx="452.7" cy="402.2" r="1.05"/><circle cx="454.2" cy="386.9" r="1.05"/><circle cx="454.5" cy="389.6" r="1.05"/><circle cx="454.6" cy="392.0" r="1.05"/><circle cx="454.6" cy="395.4" r="1.05"/><circle cx="454.3" cy="386.2" r="1.05"/><circle cx="458.2" cy="337.6" r="1.05"/><circle cx="459.5" cy="386.6" r="1.05"/><circle cx="467.3" cy="343.0" r="1.05"/><circle cx="468.6" cy="345.0" r="1.05"/><circle cx="480.5" cy="391.3" r="1.05"/><circle cx="480.4" cy="393.7" r="1.05"/><circle cx="480.1" cy="396.8" r="1.05"/><circle cx="497.4" cy="390.8" r="1.05"/><circle cx="497.2" cy="393.9" r="1.05"/><circle cx="497.5" cy="397.4" r="1.05"/><circle cx="496.9" cy="400.9" r="1.05"/><circle cx="497.3" cy="404.1" r="1.05"/><circle cx="496.9" cy="407.0" r="1.05"/><circle cx="497.2" cy="410.5" r="1.05"/><circle cx="497.4" cy="413.5" r="1.05"/><circle cx="498.7" cy="393.5" r="1.05"/><circle cx="498.7" cy="395.7" r="1.05"/><circle cx="498.4" cy="398.3" r="1.05"/><circle cx="498.5" cy="400.7" r="1.05"/><circle cx="498.5" cy="403.8" r="1.05"/><circle cx="498.5" cy="407.2" r="1.05"/><circle cx="498.8" cy="410.0" r="1.05"/><circle cx="498.2" cy="412.4" r="1.05"/><circle cx="498.4" cy="414.9" r="1.05"/><circle cx="498.5" cy="417.1" r="1.05"/><circle cx="498.8" cy="419.1" r="1.05"/><circle cx="498.7" cy="421.9" r="1.05"/><circle cx="498.6" cy="425.0" r="1.05"/><circle cx="498.4" cy="428.2" r="1.05"/><circle cx="499.7" cy="389.4" r="1.05"/><circle cx="499.8" cy="392.0" r="1.05"/><circle cx="500.1" cy="394.6" r="1.05"/><circle cx="499.5" cy="396.7" r="1.05"/><circle cx="499.7" cy="399.9" r="1.05"/><circle cx="499.9" cy="402.6" r="1.05"/><circle cx="499.6" cy="405.2" r="1.05"/><circle cx="500.0" cy="407.2" r="1.05"/><circle cx="499.7" cy="410.7" r="1.05"/><circle cx="499.7" cy="413.5" r="1.05"/><circle cx="500.0" cy="415.6" r="1.05"/><circle cx="499.6" cy="418.9" r="1.05"/><circle cx="501.1" cy="382.2" r="1.05"/><circle cx="505.0" cy="383.0" r="1.05"/><circle cx="516.9" cy="378.0" r="1.05"/><circle cx="516.8" cy="380.6" r="1.05"/><circle cx="516.9" cy="383.3" r="1.05"/><circle cx="516.7" cy="386.5" r="1.05"/><circle cx="516.6" cy="389.1" r="1.05"/><circle cx="516.9" cy="392.5" r="1.05"/><circle cx="516.5" cy="395.0" r="1.05"/><circle cx="516.7" cy="333.2" r="1.05"/><circle cx="517.8" cy="373.6" r="1.05"/><circle cx="518.2" cy="376.5" r="1.05"/><circle cx="517.9" cy="379.7" r="1.05"/><circle cx="517.9" cy="382.5" r="1.05"/><circle cx="518.2" cy="386.0" r="1.05"/><circle cx="517.9" cy="389.1" r="1.05"/><circle cx="518.0" cy="392.2" r="1.05"/><circle cx="517.9" cy="395.5" r="1.05"/><circle cx="518.1" cy="398.9" r="1.05"/><circle cx="518.0" cy="401.7" r="1.05"/><circle cx="518.0" cy="404.9" r="1.05"/><circle cx="517.7" cy="408.5" r="1.05"/><circle cx="518.1" cy="411.9" r="1.05"/><circle cx="518.0" cy="323.6" r="1.05"/><circle cx="519.4" cy="374.9" r="1.05"/><circle cx="519.6" cy="377.5" r="1.05"/><circle cx="519.4" cy="381.0" r="1.05"/><circle cx="519.0" cy="384.3" r="1.05"/><circle cx="519.2" cy="386.5" r="1.05"/><circle cx="519.3" cy="388.7" r="1.05"/><circle cx="519.5" cy="392.3" r="1.05"/><circle cx="519.1" cy="395.9" r="1.05"/><circle cx="519.0" cy="398.2" r="1.05"/><circle cx="519.0" cy="400.6" r="1.05"/><circle cx="519.2" cy="403.5" r="1.05"/><circle cx="519.3" cy="406.6" r="1.05"/><circle cx="519.2" cy="409.5" r="1.05"/><circle cx="519.4" cy="412.7" r="1.05"/><circle cx="519.3" cy="415.8" r="1.05"/><circle cx="519.3" cy="335.2" r="1.05"/><circle cx="520.5" cy="375.4" r="1.05"/><circle cx="520.5" cy="378.9" r="1.05"/><circle cx="520.4" cy="381.4" r="1.05"/><circle cx="520.7" cy="384.9" r="1.05"/><circle cx="520.3" cy="388.2" r="1.05"/><circle cx="520.7" cy="391.1" r="1.05"/><circle cx="520.9" cy="394.7" r="1.05"/><circle cx="520.5" cy="396.8" r="1.05"/><circle cx="520.6" cy="400.4" r="1.05"/><circle cx="520.5" cy="404.0" r="1.05"/><circle cx="520.9" cy="406.0" r="1.05"/><circle cx="520.6" cy="408.4" r="1.05"/><circle cx="522.1" cy="373.4" r="1.05"/><circle cx="522.1" cy="376.1" r="1.05"/><circle cx="522.2" cy="379.7" r="1.05"/><circle cx="521.8" cy="382.5" r="1.05"/><circle cx="522.2" cy="385.4" r="1.05"/><circle cx="522.0" cy="388.5" r="1.05"/><circle cx="521.8" cy="391.9" r="1.05"/><circle cx="522.1" cy="394.8" r="1.05"/><circle cx="522.1" cy="397.1" r="1.05"/><circle cx="521.9" cy="399.1" r="1.05"/><circle cx="521.7" cy="402.1" r="1.05"/><circle cx="533.6" cy="365.2" r="1.05"/><circle cx="536.1" cy="319.7" r="1.05"/><circle cx="536.5" cy="317.7" r="1.05"/><circle cx="536.0" cy="314.4" r="1.05"/><circle cx="536.0" cy="312.2" r="1.05"/><circle cx="542.7" cy="356.5" r="1.05"/><circle cx="549.2" cy="358.3" r="1.05"/><circle cx="549.0" cy="360.8" r="1.05"/><circle cx="548.9" cy="363.6" r="1.05"/><circle cx="549.2" cy="365.9" r="1.05"/><circle cx="549.2" cy="368.4" r="1.05"/><circle cx="549.1" cy="371.3" r="1.05"/><circle cx="548.9" cy="373.5" r="1.05"/><circle cx="550.4" cy="362.3" r="1.05"/><circle cx="550.8" cy="364.4" r="1.05"/><circle cx="550.5" cy="367.2" r="1.05"/><circle cx="550.6" cy="369.3" r="1.05"/><circle cx="550.6" cy="371.9" r="1.05"/><circle cx="560.6" cy="362.6" r="1.05"/><circle cx="560.8" cy="365.4" r="1.05"/><circle cx="561.1" cy="368.4" r="1.05"/><circle cx="561.0" cy="371.1" r="1.05"/><circle cx="560.8" cy="373.6" r="1.05"/><circle cx="562.2" cy="362.2" r="1.05"/><circle cx="562.2" cy="365.7" r="1.05"/><circle cx="562.2" cy="369.1" r="1.05"/><circle cx="562.1" cy="372.0" r="1.05"/><circle cx="562.5" cy="374.7" r="1.05"/><circle cx="561.9" cy="377.5" r="1.05"/><circle cx="562.2" cy="363.6" r="1.05"/><circle cx="567.4" cy="358.1" r="1.05"/><circle cx="577.8" cy="389.2" r="1.05"/><circle cx="579.2" cy="382.4" r="1.05"/><circle cx="579.2" cy="385.4" r="1.05"/><circle cx="579.0" cy="388.9" r="1.05"/><circle cx="579.0" cy="392.0" r="1.05"/><circle cx="579.3" cy="395.4" r="1.05"/><circle cx="579.2" cy="398.6" r="1.05"/><circle cx="579.3" cy="401.1" r="1.05"/><circle cx="579.4" cy="404.6" r="1.05"/><circle cx="579.3" cy="407.2" r="1.05"/><circle cx="579.3" cy="410.2" r="1.05"/><circle cx="579.1" cy="413.5" r="1.05"/><circle cx="579.3" cy="416.2" r="1.05"/><circle cx="579.1" cy="419.2" r="1.05"/><circle cx="578.8" cy="422.6" r="1.05"/><circle cx="580.4" cy="376.9" r="1.05"/><circle cx="581.9" cy="377.9" r="1.05"/><circle cx="581.5" cy="380.6" r="1.05"/><circle cx="581.5" cy="383.6" r="1.05"/><circle cx="581.8" cy="386.4" r="1.05"/><circle cx="581.7" cy="388.6" r="1.05"/><circle cx="581.8" cy="391.0" r="1.05"/><circle cx="581.9" cy="394.0" r="1.05"/><circle cx="581.5" cy="397.0" r="1.05"/><circle cx="581.8" cy="399.3" r="1.05"/><circle cx="581.4" cy="402.6" r="1.05"/><circle cx="581.6" cy="405.3" r="1.05"/><circle cx="581.9" cy="408.0" r="1.05"/><circle cx="581.8" cy="410.9" r="1.05"/><circle cx="581.6" cy="414.1" r="1.05"/><circle cx="581.6" cy="417.1" r="1.05"/><circle cx="581.7" cy="336.2" r="1.05"/><circle cx="583.1" cy="378.4" r="1.05"/><circle cx="583.3" cy="381.2" r="1.05"/><circle cx="582.8" cy="384.5" r="1.05"/><circle cx="583.2" cy="388.0" r="1.05"/><circle cx="583.0" cy="390.9" r="1.05"/><circle cx="582.9" cy="393.2" r="1.05"/><circle cx="582.8" cy="395.5" r="1.05"/><circle cx="582.9" cy="398.5" r="1.05"/><circle cx="583.0" cy="401.7" r="1.05"/><circle cx="582.8" cy="405.0" r="1.05"/><circle cx="583.0" cy="408.4" r="1.05"/><circle cx="584.4" cy="383.3" r="1.05"/><circle cx="584.3" cy="385.7" r="1.05"/><circle cx="584.6" cy="387.7" r="1.05"/><circle cx="585.6" cy="315.1" r="1.05"/><circle cx="586.9" cy="307.6" r="1.05"/><circle cx="588.0" cy="321.3" r="1.05"/><circle cx="588.3" cy="318.8" r="1.05"/><circle cx="588.0" cy="315.9" r="1.05"/><circle cx="588.2" cy="313.5" r="1.05"/><circle cx="592.1" cy="319.5" r="1.05"/><circle cx="593.4" cy="369.7" r="1.05"/><circle cx="596.0" cy="366.2" r="1.05"/><circle cx="605.1" cy="435.5" r="1.05"/><circle cx="604.9" cy="437.6" r="1.05"/><circle cx="605.0" cy="441.2" r="1.05"/><circle cx="605.1" cy="443.4" r="1.05"/><circle cx="605.2" cy="445.5" r="1.05"/><circle cx="605.1" cy="436.7" r="1.05"/><circle cx="615.5" cy="432.7" r="1.05"/><circle cx="618.1" cy="460.5" r="1.05"/><circle cx="624.6" cy="376.5" r="1.05"/><circle cx="628.8" cy="446.1" r="1.05"/><circle cx="628.5" cy="448.6" r="1.05"/><circle cx="628.3" cy="451.2" r="1.05"/><circle cx="629.9" cy="445.0" r="1.05"/><circle cx="630.0" cy="447.9" r="1.05"/><circle cx="629.9" cy="451.0" r="1.05"/><circle cx="635.0" cy="382.0" r="1.05"/><circle cx="638.9" cy="436.0" r="1.05"/><circle cx="645.4" cy="380.3" r="1.05"/><circle cx="646.7" cy="394.1" r="1.05"/><circle cx="650.6" cy="374.1" r="1.05"/><circle cx="655.8" cy="380.7" r="1.05"/><circle cx="664.9" cy="369.0" r="1.05"/><circle cx="672.9" cy="411.9" r="1.05"/><circle cx="672.7" cy="415.3" r="1.05"/><circle cx="672.7" cy="417.5" r="1.05"/><circle cx="672.5" cy="420.0" r="1.05"/><circle cx="672.7" cy="423.1" r="1.05"/><circle cx="683.1" cy="352.5" r="1.05"/><circle cx="684.4" cy="419.0" r="1.05"/><circle cx="686.9" cy="354.6" r="1.05"/><circle cx="687.3" cy="351.8" r="1.05"/><circle cx="687.0" cy="352.7" r="1.05"/><circle cx="688.1" cy="355.6" r="1.05"/><circle cx="688.5" cy="352.5" r="1.05"/><circle cx="688.1" cy="349.9" r="1.05"/><circle cx="688.4" cy="347.5" r="1.05"/><circle cx="688.2" cy="344.2" r="1.05"/><circle cx="689.5" cy="358.3" r="1.05"/><circle cx="689.3" cy="355.9" r="1.05"/><circle cx="689.7" cy="352.6" r="1.05"/><circle cx="689.6" cy="350.1" r="1.05"/><circle cx="689.4" cy="346.7" r="1.05"/><circle cx="689.4" cy="343.7" r="1.05"/><circle cx="689.8" cy="340.2" r="1.05"/><circle cx="691.0" cy="349.9" r="1.05"/><circle cx="690.9" cy="347.2" r="1.05"/><circle cx="690.7" cy="345.0" r="1.05"/><circle cx="690.9" cy="434.4" r="1.05"/><circle cx="693.7" cy="431.7" r="1.05"/><circle cx="693.4" cy="434.3" r="1.05"/><circle cx="693.5" cy="436.4" r="1.05"/><circle cx="693.4" cy="439.9" r="1.05"/><circle cx="693.7" cy="443.0" r="1.05"/><circle cx="698.7" cy="343.9" r="1.05"/><circle cx="702.8" cy="434.2" r="1.05"/><circle cx="702.5" cy="436.3" r="1.05"/><circle cx="702.7" cy="438.7" r="1.05"/><circle cx="702.9" cy="441.3" r="1.05"/><circle cx="709.1" cy="353.3" r="1.05"/><circle cx="714.0" cy="334.2" r="1.05"/><circle cx="714.0" cy="331.9" r="1.05"/><circle cx="714.4" cy="329.6" r="1.05"/><circle cx="714.3" cy="415.9" r="1.05"/><circle cx="721.0" cy="412.3" r="1.05"/><circle cx="720.8" cy="415.9" r="1.05"/><circle cx="721.0" cy="418.6" r="1.05"/><circle cx="720.6" cy="421.3" r="1.05"/><circle cx="720.7" cy="424.0" r="1.05"/><circle cx="721.0" cy="426.5" r="1.05"/><circle cx="722.1" cy="414.7" r="1.05"/><circle cx="722.1" cy="417.2" r="1.05"/><circle cx="721.9" cy="420.3" r="1.05"/><circle cx="722.1" cy="422.5" r="1.05"/><circle cx="722.1" cy="425.2" r="1.05"/><circle cx="721.9" cy="427.8" r="1.05"/><circle cx="722.2" cy="430.0" r="1.05"/><circle cx="722.2" cy="433.0" r="1.05"/><circle cx="722.1" cy="436.0" r="1.05"/><circle cx="723.4" cy="415.1" r="1.05"/><circle cx="723.4" cy="417.7" r="1.05"/><circle cx="723.3" cy="419.8" r="1.05"/><circle cx="723.1" cy="422.6" r="1.05"/><circle cx="723.6" cy="425.4" r="1.05"/><circle cx="724.7" cy="415.4" r="1.05"/><circle cx="732.5" cy="419.3" r="1.05"/><circle cx="735.1" cy="376.4" r="1.05"/><circle cx="745.6" cy="376.6" r="1.05"/><circle cx="745.7" cy="373.0" r="1.05"/><circle cx="745.8" cy="370.6" r="1.05"/><circle cx="748.1" cy="391.4" r="1.05"/><circle cx="748.1" cy="437.8" r="1.05"/><circle cx="750.4" cy="441.8" r="1.05"/><circle cx="750.6" cy="444.6" r="1.05"/><circle cx="752.2" cy="439.7" r="1.05"/><circle cx="752.3" cy="443.0" r="1.05"/><circle cx="752.1" cy="446.5" r="1.05"/><circle cx="751.9" cy="449.2" r="1.05"/><circle cx="753.4" cy="440.0" r="1.05"/><circle cx="753.5" cy="442.9" r="1.05"/><circle cx="753.4" cy="446.2" r="1.05"/><circle cx="753.5" cy="449.0" r="1.05"/></g>
<path d="M171.5 106.5V558.5M171.5 558.5H804.5M171.5 558.5v9.5M234.8 558.5v6M298.1 558.5v9.5M361.4 558.5v6M424.7 558.5v9.5M488.0 558.5v6M551.3 558.5v9.5M614.6 558.5v6M677.9 558.5v9.5M741.2 558.5v6M804.5 558.5v9.5M171.5 558.5h-9.5M171.5 502.0h-6M171.5 445.5h-9.5M171.5 388.5h-6M171.5 332.5h-9.5M171.5 276.0h-6M171.5 219.5h-9.5M171.5 163.5h-6M171.5 106.5h-9.5" stroke="#222" stroke-width="1" fill="none"/>
<g font-family="'Liberation Serif', serif" fill="#000">
<text x="488.5" y="71.3" font-size="20.3" text-anchor="middle" xml:space="preserve" style="white-space:pre">Record:  e127a</text>
<text x="488.5" y="636.3" font-size="20.3" text-anchor="middle">Time (hour)</text>
<text transform="translate(100.3 332) rotate(-90)" font-size="20.3" text-anchor="middle">RR Interval (second)</text>
<text x="171.5" y="585" font-size="18" text-anchor="middle">0</text>
<text x="298.1" y="585" font-size="18" text-anchor="middle">5</text>
<text x="424.7" y="585" font-size="18" text-anchor="middle">10</text>
<text x="551.3" y="585" font-size="18" text-anchor="middle">15</text>
<text x="677.9" y="585" font-size="18" text-anchor="middle">20</text>
<text x="804.5" y="585" font-size="18" text-anchor="middle">25</text>
<text x="159" y="564.9" font-size="18" text-anchor="end">0.0</text>
<text x="159" y="451.9" font-size="18" text-anchor="end">0.5</text>
<text x="159" y="338.9" font-size="18" text-anchor="end">1.0</text>
<text x="159" y="225.9" font-size="18" text-anchor="end">1.5</text>
<text x="159" y="112.9" font-size="18" text-anchor="end">2.0</text>
</g>
</svg>
</body></html>
